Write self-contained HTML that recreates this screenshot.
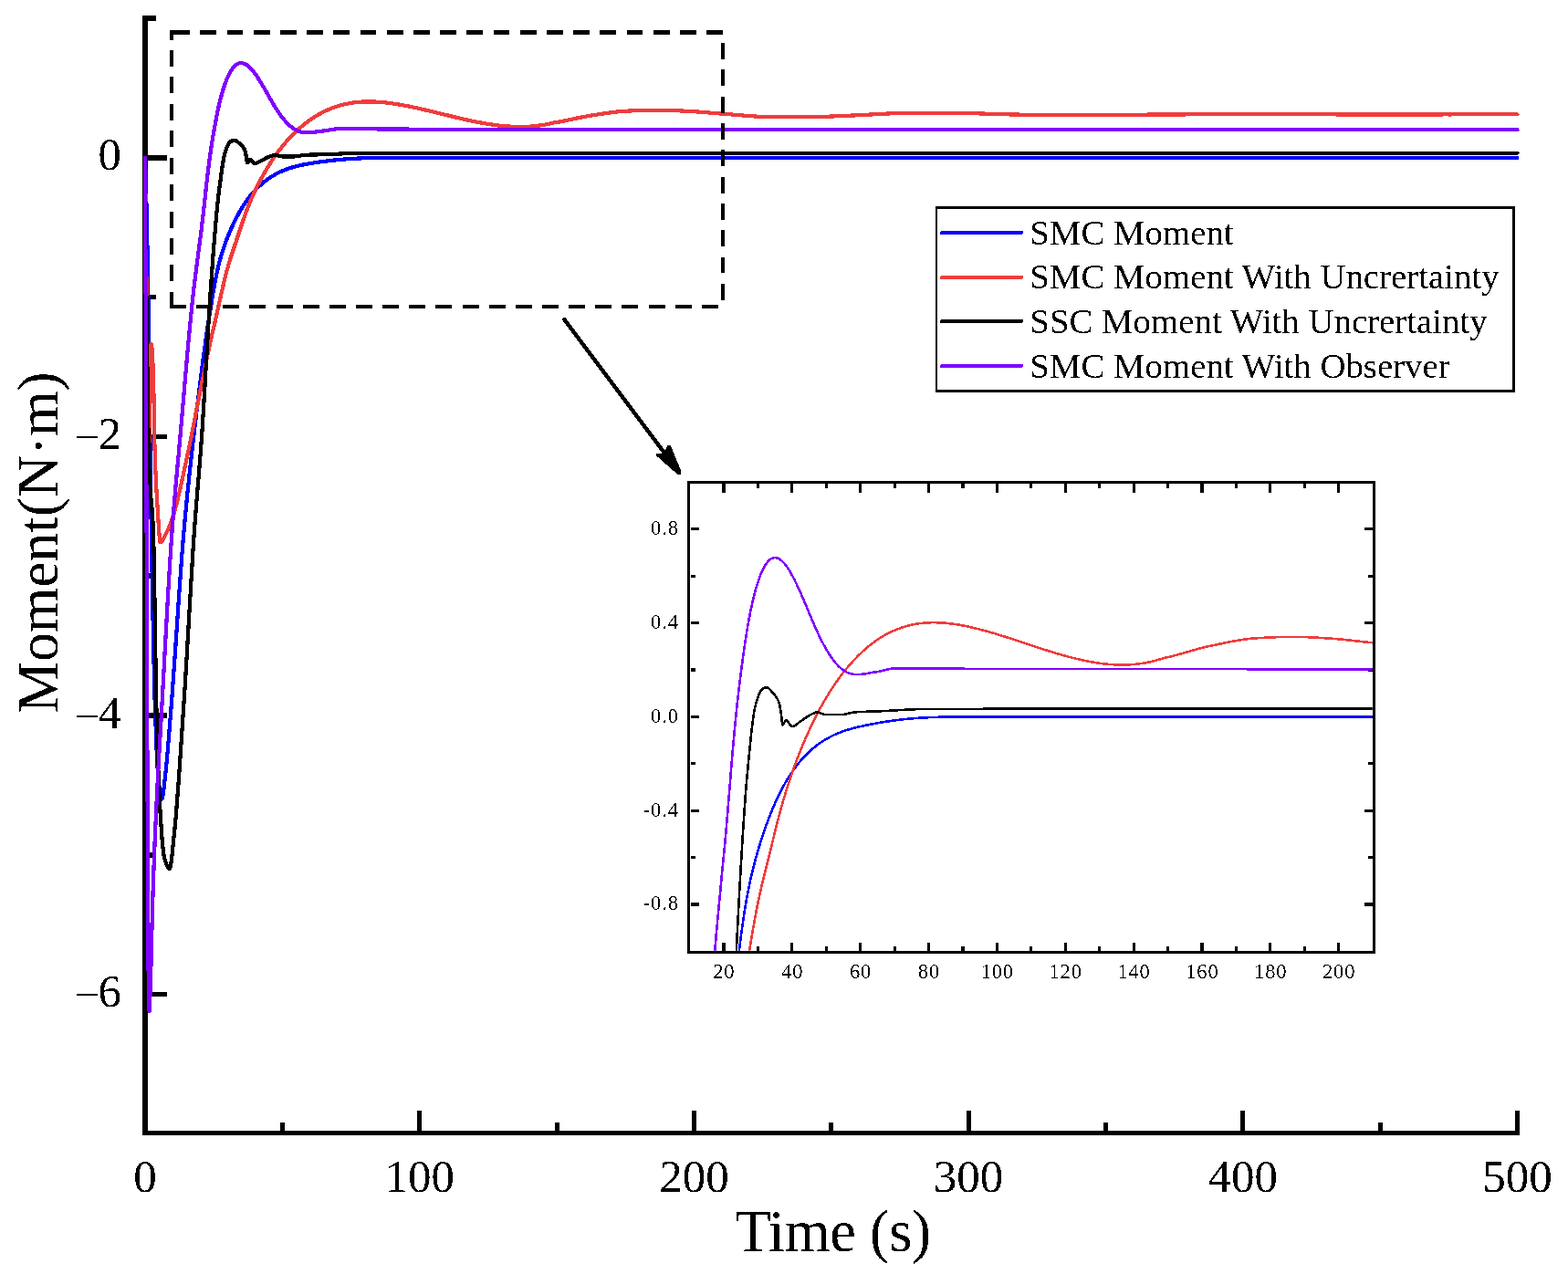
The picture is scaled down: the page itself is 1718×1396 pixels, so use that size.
<!DOCTYPE html><html><head><meta charset="utf-8"><title>Moment</title><style>html,body{margin:0;padding:0;background:#fff;width:1718px;height:1396px;overflow:hidden;}svg{display:block;shape-rendering:crispEdges;}text{font-family:"Liberation Serif","Times New Roman",serif;fill:#000;filter:url(#al);}</style></head><body>
<svg width="1718" height="1396" viewBox="0 0 1718 1396">
<rect x="0" y="0" width="1718" height="1396" fill="#fff"/>
<defs><filter id="al" x="-5%" y="-5%" width="110%" height="110%" color-interpolation-filters="sRGB"><feComponentTransfer><feFuncA type="discrete" tableValues="0 1"/></feComponentTransfer></filter><clipPath id="cm"><rect x="156" y="0" width="1520" height="1244"/></clipPath><clipPath id="ci"><rect x="756.7" y="530.2" width="747" height="511.6"/></clipPath></defs>
<rect x="156" y="17" width="6" height="1227" fill="#000"/><rect x="156" y="1238.8" width="1509" height="5" fill="#000"/><rect x="160" y="170.00" width="23" height="5.6" fill="#000"/><rect x="160" y="475.56" width="23" height="5.6" fill="#000"/><rect x="160" y="781.12" width="23" height="5.6" fill="#000"/><rect x="160" y="1086.68" width="23" height="5.6" fill="#000"/><rect x="160" y="17.22" width="11" height="5.6" fill="#000"/><rect x="160" y="322.78" width="11" height="5.6" fill="#000"/><rect x="160" y="628.34" width="11" height="5.6" fill="#000"/><rect x="160" y="933.90" width="11" height="5.6" fill="#000"/><rect x="156.50" y="1217" width="5" height="24" fill="#000"/><rect x="457.20" y="1217" width="5" height="24" fill="#000"/><rect x="757.90" y="1217" width="5" height="24" fill="#000"/><rect x="1058.60" y="1217" width="5" height="24" fill="#000"/><rect x="1359.30" y="1217" width="5" height="24" fill="#000"/><rect x="1660.00" y="1217" width="5" height="24" fill="#000"/><rect x="306.85" y="1229.8" width="5" height="11" fill="#000"/><rect x="607.55" y="1229.8" width="5" height="11" fill="#000"/><rect x="908.25" y="1229.8" width="5" height="11" fill="#000"/><rect x="1208.95" y="1229.8" width="5" height="11" fill="#000"/><rect x="1509.65" y="1229.8" width="5" height="11" fill="#000"/>
<g clip-path="url(#cm)" fill="none" stroke-width="4.2" stroke-linejoin="round" stroke-linecap="round" shape-rendering="crispEdges">
<path d="M159.00 172.80 L159.08 174.94 L159.15 177.14 L159.23 179.40 L159.30 181.73 L159.38 184.12 L159.45 186.57 L159.53 189.08 L159.60 191.64 L159.68 194.27 L159.75 196.95 L159.83 199.69 L159.90 202.49 L159.98 205.33 L160.05 208.24 L160.13 211.19 L160.20 214.20 L160.28 217.26 L160.35 220.36 L160.43 223.52 L160.50 226.73 L160.58 229.98 L160.65 233.28 L160.73 236.62 L160.80 240.01 L160.88 243.44 L160.95 246.92 L161.03 250.44 L161.10 254.00 L161.18 257.60 L161.26 261.24 L161.33 264.92 L161.41 268.63 L161.48 272.38 L161.56 276.17 L161.63 280.00 L161.71 283.85 L161.78 287.74 L161.86 291.67 L161.93 295.62 L162.01 299.61 L162.08 303.69 L162.16 307.95 L162.23 312.36 L162.31 316.93 L162.38 321.64 L162.46 326.50 L162.53 331.49 L162.61 336.61 L162.68 341.84 L162.76 347.20 L162.83 352.66 L162.91 358.22 L162.98 363.87 L163.06 369.62 L163.13 375.44 L163.21 381.34 L163.28 387.31 L163.36 393.33 L163.44 399.42 L163.51 405.55 L163.59 411.72 L163.66 417.92 L163.74 424.16 L163.81 430.42 L163.89 436.69 L163.96 442.97 L164.04 449.25 L164.11 455.52 L164.19 461.79 L164.26 468.04 L164.34 474.26 L164.41 480.45 L164.49 486.60 L164.56 492.71 L164.64 498.77 L164.71 504.77 L164.79 510.70 L164.86 516.56 L164.94 522.35 L165.01 528.05 L165.09 533.66 L165.16 539.17 L165.24 544.58 L165.31 549.88 L165.39 555.06 L165.47 560.12 L165.54 565.04 L165.62 569.83 L165.69 574.47 L165.77 578.97 L165.84 583.33 L165.92 587.68 L165.99 592.01 L166.07 596.33 L166.14 600.63 L166.22 604.93 L166.29 609.21 L166.37 613.47 L166.44 617.72 L166.52 621.94 L166.59 626.15 L166.67 630.34 L166.74 634.51 L166.82 638.65 L166.89 642.77 L166.97 646.87 L167.04 650.94 L167.12 654.98 L167.19 659.00 L167.27 662.99 L167.34 666.95 L167.42 670.87 L167.49 674.77 L167.57 678.63 L167.65 682.46 L167.72 686.25 L167.80 690.01 L167.87 693.73 L167.95 697.41 L168.02 701.05 L168.32 715.21 L168.62 728.65 L168.92 741.30 L169.22 753.11 L169.52 764.00 L169.83 773.90 L170.13 782.82 L170.43 791.36 L170.73 799.64 L171.03 807.60 L171.33 815.18 L171.63 822.31 L171.93 828.95 L172.23 835.03 L172.53 840.50 L172.83 845.31 L173.13 849.38 L173.43 852.67 L173.73 855.52 L174.03 858.30 L174.34 860.98 L174.64 863.53 L174.94 865.92 L175.24 868.11 L175.54 870.08 L175.84 871.80 L176.14 873.23 L176.44 874.36 L176.74 875.13 L177.04 875.54 L177.34 875.52 L177.64 875.02 L177.94 874.06 L178.24 872.70 L178.55 870.98 L178.85 868.97 L179.15 866.70 L179.45 864.23 L179.75 861.62 L180.05 858.90 L180.35 856.14 L180.65 853.39 L180.95 850.68 L181.25 848.09 L181.55 845.48 L181.85 842.72 L182.15 839.81 L182.45 836.78 L182.76 833.62 L183.06 830.34 L183.36 826.97 L183.66 823.50 L183.96 819.95 L184.26 816.34 L184.56 812.66 L184.86 808.93 L185.16 805.17 L185.46 801.37 L185.76 797.56 L186.06 793.74 L186.36 789.92 L186.66 786.12 L186.97 782.34 L187.27 778.59 L187.57 774.81 L187.87 770.97 L188.17 767.07 L188.47 763.11 L188.77 759.10 L189.07 755.04 L189.37 750.93 L189.67 746.78 L189.97 742.59 L190.27 738.36 L190.57 734.09 L190.87 729.80 L191.17 725.47 L191.48 721.12 L191.78 716.75 L192.08 712.35 L192.38 707.94 L192.68 703.52 L192.98 699.09 L193.28 694.64 L193.58 690.20 L193.88 685.75 L194.18 681.31 L194.48 676.87 L194.78 672.44 L195.08 668.01 L195.38 663.61 L195.69 659.22 L195.99 654.85 L196.29 650.50 L196.59 646.18 L196.89 641.89 L197.19 637.63 L197.49 633.41 L197.79 629.22 L198.09 625.08 L198.39 620.98 L198.69 616.93 L198.99 612.93 L199.29 608.98 L199.59 605.09 L199.90 601.26 L200.20 597.49 L200.50 593.79 L200.80 590.16 L201.10 586.60 L201.40 583.12 L201.70 579.71 L202.00 576.34 L202.30 573.02 L202.60 569.72 L202.90 566.46 L203.20 563.23 L203.50 560.03 L203.80 556.87 L204.11 553.73 L204.41 550.63 L204.71 547.55 L205.01 544.50 L205.31 541.48 L205.61 538.49 L205.91 535.52 L206.21 532.58 L206.51 529.66 L206.81 526.77 L207.11 523.90 L207.41 521.06 L207.71 518.23 L208.01 515.43 L208.31 512.65 L208.62 509.89 L208.92 507.15 L209.22 504.43 L209.52 501.72 L209.82 499.03 L210.12 496.36 L210.42 493.71 L210.72 491.07 L211.02 488.45 L211.32 485.84 L211.62 483.24 L211.92 480.66 L212.22 478.09 L212.52 475.52 L212.83 472.96 L213.13 470.40 L213.43 467.85 L213.73 465.30 L214.03 462.76 L214.33 460.22 L214.63 457.69 L214.93 455.17 L215.23 452.65 L215.53 450.15 L215.83 447.64 L216.13 445.15 L216.43 442.66 L216.73 440.18 L217.04 437.71 L217.34 435.25 L217.64 432.79 L217.94 430.35 L218.24 427.91 L218.54 425.48 L218.84 423.06 L219.14 420.65 L219.44 418.25 L219.74 415.86 L220.04 413.48 L220.34 411.11 L220.64 408.76 L220.94 406.41 L221.24 404.07 L221.55 401.75 L221.85 399.43 L222.15 397.13 L222.45 394.84 L222.75 392.56 L223.05 390.29 L223.35 388.04 L223.65 385.80 L223.95 383.57 L224.25 381.36 L224.55 379.15 L224.85 376.97 L225.15 374.79 L225.45 372.63 L225.76 370.49 L226.06 368.36 L226.36 366.24 L226.66 364.14 L226.96 362.05 L227.26 359.98 L227.56 357.93 L227.86 355.89 L228.16 353.86 L228.46 352.09 L228.76 350.28 L229.06 348.44 L229.36 346.57 L229.66 344.68 L229.97 342.78 L230.27 340.86 L230.57 338.94 L230.87 337.01 L231.17 335.08 L231.47 333.15 L231.77 331.23 L232.07 329.32 L232.37 327.42 L232.67 325.54 L232.97 323.68 L233.27 321.86 L233.57 320.07 L233.87 318.31 L234.18 316.59 L234.48 314.90 L234.78 313.23 L235.08 311.60 L235.38 310.00 L235.68 308.43 L235.98 306.89 L236.28 305.37 L236.58 303.89 L236.88 302.43 L237.18 301.00 L237.48 299.59 L237.78 298.22 L238.08 296.86 L238.38 295.54 L238.69 294.23 L238.99 292.95 L239.29 291.70 L239.59 290.47 L239.89 289.26 L240.19 288.07 L240.49 286.90 L240.79 285.76 L241.09 284.63 L241.39 283.53 L241.69 282.45 L241.99 281.38 L242.29 280.33 L242.59 279.30 L242.90 278.29 L243.20 277.30 L243.50 276.32 L243.80 275.36 L244.10 274.41 L244.40 273.48 L244.70 272.56 L245.00 271.66 L245.30 270.77 L245.60 269.90 L245.90 269.03 L246.20 268.18 L246.50 267.34 L246.80 266.51 L247.11 265.69 L247.41 264.88 L247.71 264.08 L248.01 263.29 L248.31 262.51 L248.61 261.74 L248.91 260.97 L249.21 260.21 L249.51 259.46 L249.81 258.71 L250.11 257.97 L250.41 257.24 L250.71 256.51 L251.01 255.79 L251.31 255.08 L251.62 254.37 L251.92 253.66 L252.22 252.97 L252.52 252.27 L252.82 251.59 L253.12 250.91 L253.42 250.23 L253.72 249.56 L254.02 248.90 L254.32 248.24 L254.62 247.59 L254.92 246.94 L255.22 246.30 L255.52 245.67 L255.83 245.03 L256.13 244.41 L256.43 243.79 L256.73 243.17 L257.03 242.56 L257.33 241.95 L257.63 241.35 L257.93 240.75 L258.23 240.16 L258.53 239.57 L258.83 238.99 L259.13 238.41 L259.43 237.84 L259.73 237.27 L260.04 236.70 L260.34 236.14 L260.64 235.59 L260.94 235.04 L261.24 234.49 L261.54 233.95 L261.84 233.41 L262.14 232.87 L262.44 232.34 L262.74 231.82 L263.04 231.30 L263.34 230.78 L263.64 230.27 L263.94 229.76 L264.25 229.25 L264.55 228.75 L264.85 228.26 L265.15 227.76 L265.45 227.28 L265.75 226.79 L266.05 226.31 L266.35 225.83 L266.65 225.36 L266.95 224.89 L267.25 224.43 L267.55 223.97 L267.85 223.51 L268.15 223.06 L268.45 222.61 L268.76 222.17 L269.06 221.72 L269.36 221.29 L269.66 220.85 L269.96 220.42 L270.26 220.00 L270.56 219.57 L270.86 219.15 L271.16 218.74 L271.46 218.33 L271.76 217.92 L272.06 217.51 L272.36 217.11 L272.66 216.71 L272.97 216.32 L273.27 215.93 L273.57 215.54 L273.87 215.16 L274.17 214.77 L274.47 214.40 L274.77 214.02 L275.07 213.65 L275.37 213.28 L275.67 212.92 L275.97 212.56 L276.27 212.20 L276.57 211.85 L276.87 211.50 L277.18 211.15 L277.48 210.80 L277.78 210.46 L278.08 210.12 L278.38 209.78 L278.68 209.45 L278.98 209.12 L279.28 208.79 L279.58 208.47 L279.88 208.15 L280.18 207.83 L280.48 207.51 L280.78 207.20 L281.08 206.89 L281.38 206.58 L281.69 206.28 L281.99 205.98 L282.29 205.68 L282.59 205.38 L282.89 205.09 L283.19 204.80 L283.49 204.51 L283.79 204.23 L284.09 203.94 L284.39 203.66 L284.69 203.38 L284.99 203.11 L285.29 202.84 L285.59 202.57 L285.90 202.30 L286.20 202.03 L286.50 201.77 L286.80 201.51 L287.10 201.25 L287.40 200.99 L287.70 200.74 L288.00 200.49 L288.30 200.24 L288.60 199.99 L288.90 199.75 L289.20 199.51 L289.50 199.27 L289.80 199.03 L290.11 198.79 L290.41 198.56 L290.71 198.33 L291.01 198.10 L291.31 197.87 L291.61 197.64 L291.91 197.42 L292.21 197.20 L292.51 196.98 L292.81 196.76 L293.11 196.54 L293.41 196.33 L293.71 196.11 L294.01 195.90 L294.31 195.69 L294.62 195.49 L294.92 195.28 L295.22 195.08 L295.52 194.88 L295.82 194.68 L296.12 194.48 L296.42 194.28 L296.72 194.09 L297.02 193.89 L297.32 193.70 L297.62 193.51 L297.92 193.32 L298.22 193.14 L298.52 192.95 L298.83 192.77 L299.13 192.59 L299.43 192.41 L299.73 192.23 L300.03 192.06 L300.33 191.88 L300.63 191.71 L300.93 191.54 L301.23 191.37 L301.53 191.20 L301.83 191.03 L302.13 190.87 L302.43 190.70 L302.73 190.54 L303.04 190.38 L303.34 190.22 L303.64 190.06 L303.94 189.91 L304.24 189.75 L304.54 189.60 L304.84 189.45 L305.14 189.30 L305.44 189.15 L305.74 189.00 L306.04 188.85 L306.34 188.71 L306.64 188.57 L306.94 188.43 L307.25 188.29 L307.55 188.15 L307.85 188.01 L308.15 187.87 L308.45 187.74 L308.75 187.60 L309.05 187.47 L309.35 187.34 L309.65 187.21 L309.95 187.08 L310.25 186.96 L310.55 186.83 L310.85 186.71 L311.15 186.58 L311.45 186.46 L311.76 186.34 L312.06 186.22 L312.36 186.10 L312.66 185.99 L312.96 185.87 L313.26 185.75 L313.56 185.64 L313.86 185.53 L314.16 185.42 L314.46 185.31 L314.76 185.20 L315.06 185.09 L315.36 184.98 L315.66 184.88 L315.97 184.77 L316.27 184.67 L316.57 184.57 L316.87 184.47 L317.17 184.37 L317.47 184.27 L317.77 184.17 L318.07 184.07 L318.37 183.98 L318.67 183.88 L318.97 183.79 L319.27 183.69 L319.57 183.60 L319.87 183.51 L320.18 183.42 L320.48 183.33 L320.78 183.24 L321.08 183.15 L321.38 183.07 L321.68 182.98 L321.98 182.90 L322.28 182.81 L322.58 182.73 L322.88 182.65 L323.18 182.57 L323.48 182.49 L323.78 182.41 L324.08 182.33 L324.38 182.25 L324.69 182.17 L324.99 182.10 L325.29 182.02 L325.59 181.94 L325.89 181.87 L326.19 181.80 L326.49 181.72 L326.79 181.65 L327.09 181.58 L327.39 181.51 L327.69 181.44 L327.99 181.37 L328.29 181.30 L328.59 181.23 L328.90 181.17 L329.20 181.10 L329.50 181.03 L329.80 180.97 L330.10 180.90 L330.40 180.84 L330.70 180.78 L331.00 180.71 L331.30 180.65 L331.60 180.59 L331.90 180.53 L332.20 180.47 L332.50 180.41 L332.80 180.35 L333.11 180.29 L333.41 180.23 L333.71 180.17 L334.01 180.12 L334.31 180.06 L334.61 180.00 L334.91 179.95 L335.21 179.89 L335.51 179.83 L335.81 179.78 L336.11 179.72 L336.41 179.67 L336.71 179.62 L337.01 179.56 L337.32 179.51 L337.62 179.46 L337.92 179.41 L338.22 179.35 L338.52 179.30 L338.82 179.25 L339.12 179.20 L339.42 179.15 L339.72 179.10 L340.02 179.05 L340.32 179.00 L340.62 178.95 L340.92 178.90 L341.22 178.85 L341.52 178.80 L341.83 178.75 L342.13 178.71 L342.43 178.66 L342.73 178.61 L343.03 178.56 L343.33 178.51 L343.63 178.47 L343.93 178.42 L344.23 178.37 L344.53 178.33 L344.83 178.28 L345.13 178.23 L345.43 178.19 L345.73 178.14 L346.04 178.10 L346.34 178.05 L346.64 178.01 L346.94 177.96 L347.24 177.92 L347.54 177.87 L347.84 177.83 L348.14 177.78 L348.44 177.74 L348.74 177.70 L349.04 177.65 L349.34 177.61 L349.64 177.57 L349.94 177.52 L350.25 177.48 L350.55 177.44 L350.85 177.40 L351.15 177.36 L351.45 177.31 L351.75 177.27 L352.05 177.23 L352.35 177.19 L352.65 177.15 L352.95 177.11 L353.25 177.07 L353.55 177.03 L353.85 176.99 L354.15 176.95 L354.46 176.91 L354.76 176.87 L355.06 176.83 L355.36 176.79 L355.66 176.75 L355.96 176.71 L356.26 176.68 L356.56 176.64 L356.86 176.60 L357.16 176.56 L357.46 176.53 L357.76 176.49 L358.06 176.45 L358.36 176.41 L358.66 176.38 L358.97 176.34 L359.27 176.31 L359.57 176.27 L359.87 176.23 L360.17 176.20 L360.47 176.16 L360.77 176.13 L361.07 176.09 L361.37 176.06 L361.67 176.02 L361.97 175.99 L362.27 175.95 L362.57 175.92 L362.87 175.89 L363.18 175.85 L363.48 175.82 L363.78 175.79 L364.08 175.75 L364.38 175.72 L364.68 175.69 L364.98 175.66 L365.28 175.62 L365.58 175.59 L365.88 175.56 L366.18 175.53 L366.48 175.50 L366.78 175.47 L367.08 175.44 L367.39 175.41 L367.69 175.38 L367.99 175.35 L368.29 175.32 L368.59 175.29 L368.89 175.26 L369.19 175.23 L369.49 175.20 L372.50 174.92 L375.50 174.65 L378.51 174.41 L381.52 174.19 L384.52 173.99 L387.53 173.80 L390.54 173.64 L393.55 173.49 L396.55 173.36 L399.56 173.25 L402.57 173.16 L405.57 173.09 L408.58 173.03 L411.59 172.99 L414.60 172.97 L417.60 172.97 L420.61 172.98 L423.62 173.01 L426.62 173.00 L429.63 172.87 L432.64 172.86 L435.64 172.85 L438.65 172.84 L441.66 172.83 L444.67 172.82 L447.67 172.81 L450.68 172.81 L453.69 172.80 L456.69 172.80 L459.70 172.80 L462.71 172.80 L465.71 172.80 L468.72 172.80 L471.73 172.80 L474.74 172.80 L477.74 172.80 L480.75 172.80 L483.76 172.80 L486.76 172.80 L489.77 172.80 L492.78 172.80 L495.78 172.80 L498.79 172.80 L501.80 172.80 L504.81 172.80 L507.81 172.80 L510.82 172.80 L513.83 172.80 L516.83 172.80 L519.84 172.80 L522.85 172.80 L525.85 172.80 L528.86 172.80 L531.87 172.80 L534.88 172.80 L537.88 172.80 L540.89 172.80 L543.90 172.80 L546.90 172.80 L549.91 172.80 L552.92 172.80 L555.92 172.80 L558.93 172.80 L561.94 172.80 L564.94 172.80 L567.95 172.80 L570.96 172.80 L573.97 172.80 L576.97 172.80 L579.98 172.80 L582.99 172.80 L585.99 172.80 L589.00 172.80 L592.01 172.80 L595.02 172.80 L598.02 172.80 L601.03 172.80 L604.04 172.80 L607.04 172.80 L610.05 172.80 L613.06 172.80 L616.06 172.80 L619.07 172.80 L622.08 172.80 L625.09 172.80 L628.09 172.80 L631.10 172.80 L634.11 172.80 L637.11 172.80 L640.12 172.80 L643.13 172.80 L646.13 172.80 L649.14 172.80 L652.15 172.80 L655.15 172.80 L658.16 172.80 L661.17 172.80 L664.18 172.80 L667.18 172.80 L670.19 172.80 L673.20 172.80 L676.20 172.80 L679.21 172.80 L682.22 172.80 L685.23 172.80 L688.23 172.80 L691.24 172.80 L694.25 172.80 L697.25 172.80 L700.26 172.80 L703.27 172.80 L706.27 172.80 L709.28 172.80 L712.29 172.80 L715.30 172.80 L718.30 172.80 L721.31 172.80 L724.32 172.80 L727.32 172.80 L730.33 172.80 L733.34 172.80 L736.34 172.80 L739.35 172.80 L742.36 172.80 L745.37 172.80 L748.37 172.80 L751.38 172.80 L754.39 172.80 L757.39 172.80 L760.40 172.80 L763.41 172.80 L766.41 172.80 L769.42 172.80 L772.43 172.80 L775.44 172.80 L778.44 172.80 L781.45 172.80 L784.46 172.80 L787.46 172.80 L790.47 172.80 L793.48 172.80 L796.48 172.80 L799.49 172.80 L802.50 172.80 L805.50 172.80 L808.51 172.80 L811.52 172.80 L814.53 172.80 L817.53 172.80 L820.54 172.80 L823.55 172.80 L826.55 172.80 L829.56 172.80 L832.57 172.80 L835.58 172.80 L838.58 172.80 L841.59 172.80 L844.60 172.80 L847.60 172.80 L850.61 172.80 L853.62 172.80 L856.62 172.80 L859.63 172.80 L862.64 172.80 L865.64 172.80 L868.65 172.80 L871.66 172.80 L874.67 172.80 L877.67 172.80 L880.68 172.80 L883.69 172.80 L886.69 172.80 L889.70 172.80 L892.71 172.80 L895.72 172.80 L898.72 172.80 L901.73 172.80 L904.74 172.80 L907.74 172.80 L910.75 172.80 L913.76 172.80 L916.76 172.80 L919.77 172.80 L922.78 172.80 L925.79 172.80 L928.79 172.80 L931.80 172.80 L934.81 172.80 L937.81 172.80 L940.82 172.80 L943.83 172.80 L946.83 172.80 L949.84 172.80 L952.85 172.80 L955.86 172.80 L958.86 172.80 L961.87 172.80 L964.88 172.80 L967.88 172.80 L970.89 172.80 L973.90 172.80 L976.90 172.80 L979.91 172.80 L982.92 172.80 L985.93 172.80 L988.93 172.80 L991.94 172.80 L994.95 172.80 L997.95 172.80 L1000.96 172.80 L1003.97 172.80 L1006.97 172.80 L1009.98 172.80 L1012.99 172.80 L1016.00 172.80 L1019.00 172.80 L1022.01 172.80 L1025.02 172.80 L1028.02 172.80 L1031.03 172.80 L1034.04 172.80 L1037.04 172.80 L1040.05 172.80 L1043.06 172.80 L1046.07 172.80 L1049.07 172.80 L1052.08 172.80 L1055.09 172.80 L1058.09 172.80 L1061.10 172.80 L1064.11 172.80 L1067.11 172.80 L1070.12 172.80 L1073.13 172.80 L1076.13 172.80 L1079.14 172.80 L1082.15 172.80 L1085.16 172.80 L1088.16 172.80 L1091.17 172.80 L1094.18 172.80 L1097.18 172.80 L1100.19 172.80 L1103.20 172.80 L1106.20 172.80 L1109.21 172.80 L1112.22 172.80 L1115.23 172.80 L1118.23 172.80 L1121.24 172.80 L1124.25 172.80 L1127.25 172.80 L1130.26 172.80 L1133.27 172.80 L1136.28 172.80 L1139.28 172.80 L1142.29 172.80 L1145.30 172.80 L1148.30 172.80 L1151.31 172.80 L1154.32 172.80 L1157.32 172.80 L1160.33 172.80 L1163.34 172.80 L1166.35 172.80 L1169.35 172.80 L1172.36 172.80 L1175.37 172.80 L1178.37 172.80 L1181.38 172.80 L1184.39 172.80 L1187.39 172.80 L1190.40 172.80 L1193.41 172.80 L1196.41 172.80 L1199.42 172.80 L1202.43 172.80 L1205.44 172.80 L1208.44 172.80 L1211.45 172.80 L1214.46 172.80 L1217.46 172.80 L1220.47 172.80 L1223.48 172.80 L1226.49 172.80 L1229.49 172.80 L1232.50 172.80 L1235.51 172.80 L1238.51 172.80 L1241.52 172.80 L1244.53 172.80 L1247.53 172.80 L1250.54 172.80 L1253.55 172.80 L1256.56 172.80 L1259.56 172.80 L1262.57 172.80 L1265.58 172.80 L1268.58 172.80 L1271.59 172.80 L1274.60 172.80 L1277.60 172.80 L1280.61 172.80 L1283.62 172.80 L1286.62 172.80 L1289.63 172.80 L1292.64 172.80 L1295.65 172.80 L1298.65 172.80 L1301.66 172.80 L1304.67 172.80 L1307.67 172.80 L1310.68 172.80 L1313.69 172.80 L1316.69 172.80 L1319.70 172.80 L1322.71 172.80 L1325.72 172.80 L1328.72 172.80 L1331.73 172.80 L1334.74 172.80 L1337.74 172.80 L1340.75 172.80 L1343.76 172.80 L1346.77 172.80 L1349.77 172.80 L1352.78 172.80 L1355.79 172.80 L1358.79 172.80 L1361.80 172.80 L1364.81 172.80 L1367.81 172.80 L1370.82 172.80 L1373.83 172.80 L1376.84 172.80 L1379.84 172.80 L1382.85 172.80 L1385.86 172.80 L1388.86 172.80 L1391.87 172.80 L1394.88 172.80 L1397.88 172.80 L1400.89 172.80 L1403.90 172.80 L1406.90 172.80 L1409.91 172.80 L1412.92 172.80 L1415.93 172.80 L1418.93 172.80 L1421.94 172.80 L1424.95 172.80 L1427.95 172.80 L1430.96 172.80 L1433.97 172.80 L1436.98 172.80 L1439.98 172.80 L1442.99 172.80 L1446.00 172.80 L1449.00 172.80 L1452.01 172.80 L1455.02 172.80 L1458.02 172.80 L1461.03 172.80 L1464.04 172.80 L1467.05 172.80 L1470.05 172.80 L1473.06 172.80 L1476.07 172.80 L1479.07 172.80 L1482.08 172.80 L1485.09 172.80 L1488.09 172.80 L1491.10 172.80 L1494.11 172.80 L1497.12 172.80 L1500.12 172.80 L1503.13 172.80 L1506.14 172.80 L1509.14 172.80 L1512.15 172.80 L1515.16 172.80 L1518.16 172.80 L1521.17 172.80 L1524.18 172.80 L1527.18 172.80 L1530.19 172.80 L1533.20 172.80 L1536.21 172.80 L1539.21 172.80 L1542.22 172.80 L1545.23 172.80 L1548.23 172.80 L1551.24 172.80 L1554.25 172.80 L1557.26 172.80 L1560.26 172.80 L1563.27 172.80 L1566.28 172.80 L1569.28 172.80 L1572.29 172.80 L1575.30 172.80 L1578.30 172.80 L1581.31 172.80 L1584.32 172.80 L1587.33 172.80 L1590.33 172.80 L1593.34 172.80 L1596.35 172.80 L1599.35 172.80 L1602.36 172.80 L1605.37 172.80 L1608.37 172.80 L1611.38 172.80 L1614.39 172.80 L1617.39 172.80 L1620.40 172.80 L1623.41 172.80 L1626.42 172.80 L1629.42 172.80 L1632.43 172.80 L1635.44 172.80 L1638.44 172.80 L1641.45 172.80 L1644.46 172.80 L1647.47 172.80 L1650.47 172.80 L1653.48 172.80 L1656.49 172.80 L1659.49 172.80 L1662.50 172.80" stroke="#0000ff"/>
<path d="M159.00 172.80 L159.08 180.04 L159.15 187.24 L159.23 194.41 L159.30 201.54 L159.38 208.63 L159.45 215.68 L159.53 222.70 L159.60 229.68 L159.68 236.62 L159.75 243.52 L159.83 250.38 L159.90 257.20 L159.98 263.98 L160.05 270.72 L160.13 277.42 L160.20 284.08 L160.28 290.70 L160.35 297.28 L160.43 303.81 L160.50 310.30 L160.58 316.82 L160.65 323.44 L160.73 330.12 L160.80 336.84 L160.88 343.59 L160.95 350.34 L161.03 357.07 L161.10 363.75 L161.18 370.37 L161.26 376.90 L161.33 383.33 L161.41 389.62 L161.48 395.75 L161.56 401.71 L161.63 407.47 L161.71 413.01 L161.78 418.31 L161.86 423.34 L161.93 428.09 L162.01 432.53 L162.08 436.88 L162.16 441.37 L162.23 445.93 L162.31 450.50 L162.38 455.03 L162.46 459.46 L162.53 463.74 L162.61 467.81 L162.68 471.61 L162.76 475.09 L162.83 478.19 L162.91 480.85 L162.98 483.02 L163.06 484.64 L163.13 485.65 L163.21 486.00 L163.28 485.89 L163.36 485.55 L163.44 484.97 L163.51 484.15 L163.59 483.09 L163.66 481.77 L163.74 480.20 L163.81 478.36 L163.89 470.21 L163.96 454.14 L164.04 436.81 L164.11 424.89 L164.19 418.18 L164.26 412.10 L164.34 406.66 L164.41 401.88 L164.49 397.78 L164.56 394.37 L164.64 391.69 L164.71 389.75 L164.79 388.22 L164.86 386.76 L164.94 385.38 L165.01 384.09 L165.09 382.89 L165.16 381.78 L165.24 380.78 L165.31 379.88 L165.39 379.10 L165.47 378.43 L165.54 377.89 L165.62 377.48 L165.69 377.21 L165.77 377.08 L165.84 377.10 L165.92 377.27 L165.99 377.60 L166.07 378.05 L166.14 378.64 L166.22 379.33 L166.29 380.12 L166.37 381.01 L166.44 381.96 L166.52 382.98 L166.59 384.05 L166.67 385.16 L166.74 386.30 L166.82 387.45 L166.89 388.60 L166.97 389.75 L167.04 390.93 L167.12 392.19 L167.19 393.53 L167.27 394.96 L167.34 396.48 L167.42 398.09 L167.49 399.79 L167.57 401.58 L167.65 403.46 L167.72 405.44 L167.80 407.51 L167.87 409.69 L167.95 411.96 L168.02 414.34 L168.32 424.89 L168.62 442.41 L168.92 464.79 L169.22 480.98 L169.52 491.28 L169.83 500.53 L170.13 508.86 L170.43 516.35 L170.73 523.13 L171.03 529.30 L171.33 534.97 L171.63 540.24 L171.93 545.22 L172.23 550.02 L172.53 554.75 L172.83 559.59 L173.13 564.57 L173.43 569.57 L173.73 574.45 L174.03 579.08 L174.34 583.34 L174.64 587.09 L174.94 590.21 L175.24 592.57 L175.54 594.03 L175.84 594.47 L176.14 594.42 L176.44 594.28 L176.74 594.07 L177.04 593.78 L177.34 593.43 L177.64 593.02 L177.94 592.56 L178.24 592.05 L178.55 591.50 L178.85 590.92 L179.15 590.32 L179.45 589.69 L179.75 589.05 L180.05 588.41 L180.35 587.76 L180.65 587.12 L180.95 586.50 L181.25 585.89 L181.55 585.31 L181.85 584.73 L182.15 584.15 L182.45 583.56 L182.76 582.96 L183.06 582.35 L183.36 581.72 L183.66 581.09 L183.96 580.44 L184.26 579.78 L184.56 579.11 L184.86 578.43 L185.16 577.74 L185.46 577.03 L185.76 576.31 L186.06 575.58 L186.36 574.83 L186.66 574.07 L186.97 573.29 L187.27 572.50 L187.57 571.70 L187.87 570.88 L188.17 570.04 L188.47 569.19 L188.77 568.33 L189.07 567.44 L189.37 566.53 L189.67 565.59 L189.97 564.64 L190.27 563.66 L190.57 562.66 L190.87 561.64 L191.17 560.61 L191.48 559.55 L191.78 558.47 L192.08 557.38 L192.38 556.27 L192.68 555.14 L192.98 553.99 L193.28 552.83 L193.58 551.65 L193.88 550.46 L194.18 549.26 L194.48 548.03 L194.78 546.80 L195.08 545.55 L195.38 544.29 L195.69 543.02 L195.99 541.73 L196.29 540.44 L196.59 539.13 L196.89 537.82 L197.19 536.49 L197.49 535.16 L197.79 533.82 L198.09 532.47 L198.39 531.11 L198.69 529.75 L198.99 528.38 L199.29 527.00 L199.59 525.62 L199.90 524.23 L200.20 522.84 L200.50 521.45 L200.80 520.05 L201.10 518.65 L201.40 517.25 L201.70 515.84 L202.00 514.44 L202.30 513.03 L202.60 511.62 L202.90 510.22 L203.20 508.81 L203.50 507.41 L203.80 506.01 L204.11 504.61 L204.41 503.21 L204.71 501.82 L205.01 500.43 L205.31 499.05 L205.61 497.67 L205.91 496.28 L206.21 494.87 L206.51 493.46 L206.81 492.03 L207.11 490.59 L207.41 489.14 L207.71 487.68 L208.01 486.21 L208.31 484.73 L208.62 483.24 L208.92 481.75 L209.22 480.24 L209.52 478.73 L209.82 477.22 L210.12 475.69 L210.42 474.17 L210.72 472.64 L211.02 471.10 L211.32 469.56 L211.62 468.02 L211.92 466.48 L212.22 464.93 L212.52 463.39 L212.83 461.84 L213.13 460.29 L213.43 458.75 L213.73 457.20 L214.03 455.66 L214.33 454.12 L214.63 452.58 L214.93 451.05 L215.23 449.52 L215.53 448.00 L215.83 446.48 L216.13 444.96 L216.43 443.46 L216.73 441.96 L217.04 440.46 L217.34 438.97 L217.64 437.49 L217.94 435.99 L218.24 434.50 L218.54 433.01 L218.84 431.51 L219.14 430.01 L219.44 428.51 L219.74 427.02 L220.04 425.52 L220.34 424.02 L220.64 422.52 L220.94 421.02 L221.24 419.52 L221.55 418.02 L221.85 416.52 L222.15 415.02 L222.45 413.52 L222.75 412.03 L223.05 410.53 L223.35 409.04 L223.65 407.55 L223.95 406.06 L224.25 404.57 L224.55 403.09 L224.85 401.61 L225.15 400.13 L225.45 398.65 L225.76 397.18 L226.06 395.71 L226.36 394.24 L226.66 392.78 L226.96 391.32 L227.26 389.87 L227.56 388.42 L227.86 386.97 L228.16 385.53 L228.46 384.09 L228.76 382.66 L229.06 381.24 L229.36 379.81 L229.66 378.40 L229.97 376.99 L230.27 375.59 L230.57 374.19 L230.87 372.80 L231.17 371.41 L231.47 370.05 L231.77 368.72 L232.07 367.40 L232.37 366.11 L232.67 364.84 L232.97 363.58 L233.27 362.33 L233.57 361.08 L233.87 359.84 L234.18 358.60 L234.48 357.36 L234.78 356.12 L235.08 354.87 L235.38 353.62 L235.68 352.36 L235.98 351.03 L236.28 349.69 L236.58 348.34 L236.88 346.99 L237.18 345.64 L237.48 344.29 L237.78 342.93 L238.08 341.57 L238.38 340.21 L238.69 338.85 L238.99 337.49 L239.29 336.12 L239.59 334.76 L239.89 333.40 L240.19 332.04 L240.49 330.68 L240.79 329.32 L241.09 327.97 L241.39 326.62 L241.69 325.27 L241.99 323.93 L242.29 322.59 L242.59 321.26 L242.90 319.93 L243.20 318.61 L243.50 317.30 L243.80 315.99 L244.10 314.69 L244.40 313.40 L244.70 312.12 L245.00 310.85 L245.30 309.58 L245.60 308.33 L245.90 307.09 L246.20 305.85 L246.50 304.63 L246.80 303.43 L247.11 302.23 L247.41 301.05 L247.71 299.88 L248.01 298.72 L248.31 297.58 L248.61 296.45 L248.91 295.34 L249.21 294.24 L249.51 293.17 L249.81 292.10 L250.11 291.05 L250.41 290.02 L250.71 289.00 L251.01 287.99 L251.31 286.99 L251.62 286.01 L251.92 285.04 L252.22 284.08 L252.52 283.12 L252.82 282.18 L253.12 281.25 L253.42 280.32 L253.72 279.40 L254.02 278.48 L254.32 277.58 L254.62 276.67 L254.92 275.77 L255.22 274.88 L255.52 273.99 L255.83 273.10 L256.13 272.21 L256.43 271.32 L256.73 270.44 L257.03 269.55 L257.33 268.66 L257.63 267.78 L257.93 266.89 L258.23 265.99 L258.53 265.09 L258.83 264.19 L259.13 263.29 L259.43 262.38 L259.73 261.47 L260.04 260.55 L260.34 259.64 L260.64 258.72 L260.94 257.80 L261.24 256.88 L261.54 255.96 L261.84 255.04 L262.14 254.12 L262.44 253.20 L262.74 252.28 L263.04 251.36 L263.34 250.45 L263.64 249.53 L263.94 248.62 L264.25 247.72 L264.55 246.81 L264.85 245.91 L265.15 245.02 L265.45 244.13 L265.75 243.24 L266.05 242.36 L266.35 241.49 L266.65 240.62 L266.95 239.76 L267.25 238.90 L267.55 238.05 L267.85 237.21 L268.15 236.37 L268.45 235.55 L268.76 234.72 L269.06 233.90 L269.36 233.09 L269.66 232.29 L269.96 231.49 L270.26 230.70 L270.56 229.91 L270.86 229.13 L271.16 228.35 L271.46 227.59 L271.76 226.82 L272.06 226.06 L272.36 225.31 L272.66 224.56 L272.97 223.82 L273.27 223.09 L273.57 222.36 L273.87 221.63 L274.17 220.91 L274.47 220.19 L274.77 219.48 L275.07 218.78 L275.37 218.08 L275.67 217.38 L275.97 216.69 L276.27 216.01 L276.57 215.33 L276.87 214.65 L277.18 213.98 L277.48 213.32 L277.78 212.65 L278.08 212.00 L278.38 211.34 L278.68 210.69 L278.98 210.05 L279.28 209.41 L279.58 208.77 L279.88 208.14 L280.18 207.51 L280.48 206.89 L280.78 206.27 L281.08 205.66 L281.38 205.04 L281.69 204.44 L281.99 203.83 L282.29 203.23 L282.59 202.64 L282.89 202.04 L283.19 201.45 L283.49 200.87 L283.79 200.28 L284.09 199.70 L284.39 199.13 L284.69 198.55 L284.99 197.98 L285.29 197.42 L285.59 196.85 L285.90 196.29 L286.20 195.74 L286.50 195.18 L286.80 194.63 L287.10 194.08 L287.40 193.53 L287.70 192.99 L288.00 192.45 L288.30 191.91 L288.60 191.38 L288.90 190.84 L289.20 190.31 L289.50 189.79 L289.80 189.26 L290.11 188.74 L290.41 188.22 L290.71 187.70 L291.01 187.19 L291.31 186.68 L291.61 186.17 L291.91 185.66 L292.21 185.16 L292.51 184.66 L292.81 184.16 L293.11 183.66 L293.41 183.17 L293.71 182.68 L294.01 182.19 L294.31 181.70 L294.62 181.22 L294.92 180.74 L295.22 180.26 L295.52 179.78 L295.82 179.31 L296.12 178.84 L296.42 178.37 L296.72 177.90 L297.02 177.44 L297.32 176.98 L297.62 176.52 L297.92 176.06 L298.22 175.61 L298.52 175.16 L298.83 174.71 L299.13 174.26 L299.43 173.81 L299.73 173.37 L300.03 172.93 L300.33 172.49 L300.63 172.06 L300.93 171.62 L301.23 171.19 L301.53 170.76 L301.83 170.34 L302.13 169.91 L302.43 169.49 L302.73 169.07 L303.04 168.65 L303.34 168.24 L303.64 167.83 L303.94 167.41 L304.24 167.01 L304.54 166.60 L304.84 166.19 L305.14 165.79 L305.44 165.39 L305.74 164.99 L306.04 164.60 L306.34 164.20 L306.64 163.81 L306.94 163.42 L307.25 163.03 L307.55 162.65 L307.85 162.27 L308.15 161.88 L308.45 161.50 L308.75 161.13 L309.05 160.75 L309.35 160.38 L309.65 160.01 L309.95 159.64 L310.25 159.27 L310.55 158.91 L310.85 158.54 L311.15 158.18 L311.45 157.82 L311.76 157.46 L312.06 157.11 L312.36 156.75 L312.66 156.40 L312.96 156.05 L313.26 155.71 L313.56 155.36 L313.86 155.01 L314.16 154.67 L314.46 154.33 L314.76 153.99 L315.06 153.66 L315.36 153.32 L315.66 152.99 L315.97 152.66 L316.27 152.33 L316.57 152.00 L316.87 151.67 L317.17 151.35 L317.47 151.03 L317.77 150.70 L318.07 150.39 L318.37 150.07 L318.67 149.75 L318.97 149.44 L319.27 149.13 L319.57 148.81 L319.87 148.51 L320.18 148.20 L320.48 147.89 L320.78 147.59 L321.08 147.29 L321.38 146.99 L321.68 146.69 L321.98 146.39 L322.28 146.09 L322.58 145.80 L322.88 145.50 L323.18 145.21 L323.48 144.92 L323.78 144.64 L324.08 144.35 L324.38 144.06 L324.69 143.78 L324.99 143.50 L325.29 143.22 L325.59 142.94 L325.89 142.66 L326.19 142.38 L326.49 142.11 L326.79 141.84 L327.09 141.56 L327.39 141.29 L327.69 141.02 L327.99 140.76 L328.29 140.49 L328.59 140.23 L328.90 139.96 L329.20 139.70 L329.50 139.44 L329.80 139.18 L330.10 138.93 L330.40 138.67 L330.70 138.42 L331.00 138.16 L331.30 137.91 L331.60 137.66 L331.90 137.41 L332.20 137.17 L332.50 136.92 L332.80 136.68 L333.11 136.43 L333.41 136.19 L333.71 135.95 L334.01 135.71 L334.31 135.48 L334.61 135.24 L334.91 135.01 L335.21 134.77 L335.51 134.54 L335.81 134.31 L336.11 134.08 L336.41 133.85 L336.71 133.63 L337.01 133.40 L337.32 133.18 L337.62 132.96 L337.92 132.74 L338.22 132.52 L338.52 132.30 L338.82 132.08 L339.12 131.87 L339.42 131.65 L339.72 131.44 L340.02 131.23 L340.32 131.02 L340.62 130.81 L340.92 130.60 L341.22 130.40 L341.52 130.19 L341.83 129.99 L342.13 129.79 L342.43 129.59 L342.73 129.39 L343.03 129.19 L343.33 128.99 L343.63 128.80 L343.93 128.60 L344.23 128.41 L344.53 128.22 L344.83 128.03 L345.13 127.84 L345.43 127.65 L345.73 127.46 L346.04 127.28 L346.34 127.09 L346.64 126.91 L346.94 126.73 L347.24 126.55 L347.54 126.37 L347.84 126.19 L348.14 126.02 L348.44 125.84 L348.74 125.67 L349.04 125.50 L349.34 125.32 L349.64 125.15 L349.94 124.99 L350.25 124.82 L350.55 124.65 L350.85 124.49 L351.15 124.32 L351.45 124.16 L351.75 124.00 L352.05 123.84 L352.35 123.68 L352.65 123.52 L352.95 123.36 L353.25 123.21 L353.55 123.05 L353.85 122.90 L354.15 122.75 L354.46 122.60 L354.76 122.45 L355.06 122.30 L355.36 122.15 L355.66 122.00 L355.96 121.86 L356.26 121.72 L356.56 121.57 L356.86 121.43 L357.16 121.29 L357.46 121.15 L357.76 121.01 L358.06 120.88 L358.36 120.74 L358.66 120.61 L358.97 120.47 L359.27 120.34 L359.57 120.21 L359.87 120.08 L360.17 119.95 L360.47 119.82 L360.77 119.69 L361.07 119.57 L361.37 119.44 L361.67 119.32 L361.97 119.20 L362.27 119.08 L362.57 118.96 L362.87 118.84 L363.18 118.72 L363.48 118.60 L363.78 118.49 L364.08 118.37 L364.38 118.26 L364.68 118.15 L364.98 118.03 L365.28 117.92 L365.58 117.81 L365.88 117.71 L366.18 117.60 L366.48 117.49 L366.78 117.39 L367.08 117.28 L367.39 117.18 L367.69 117.08 L367.99 116.98 L368.29 116.88 L368.59 116.78 L368.89 116.68 L369.19 116.58 L369.49 116.49 L372.50 115.58 L375.50 114.78 L378.51 114.06 L381.52 113.45 L384.52 112.91 L387.53 112.47 L390.54 112.11 L393.55 111.82 L396.55 111.61 L399.56 111.48 L402.57 111.41 L405.57 111.41 L408.58 111.47 L411.59 111.59 L414.60 111.76 L417.60 111.99 L420.61 112.27 L423.62 112.59 L426.62 112.96 L429.63 113.37 L432.64 113.81 L435.64 114.29 L438.65 114.79 L441.66 115.33 L444.67 115.89 L447.67 116.48 L450.68 117.09 L453.69 117.72 L456.69 118.37 L459.70 119.03 L462.71 119.72 L465.71 120.41 L468.72 121.12 L471.73 121.84 L474.74 122.56 L477.74 123.29 L480.75 124.03 L483.76 124.77 L486.76 125.51 L489.77 126.24 L492.78 126.98 L495.78 127.71 L498.79 128.43 L501.80 129.15 L504.81 129.85 L507.81 130.54 L510.82 131.22 L513.83 131.88 L516.83 132.53 L519.84 133.15 L522.85 133.75 L525.85 134.33 L528.86 134.89 L531.87 135.41 L534.88 135.91 L537.88 136.38 L540.89 136.81 L543.90 137.21 L546.90 137.58 L549.91 137.90 L552.92 138.19 L555.92 138.43 L558.93 138.63 L561.94 138.79 L564.94 138.89 L567.95 138.95 L570.96 138.96 L573.97 138.91 L576.97 138.81 L579.98 138.65 L582.99 138.44 L585.99 138.16 L589.00 137.82 L592.01 137.42 L595.02 136.95 L598.02 136.41 L601.03 135.81 L604.04 135.13 L607.04 134.42 L610.05 133.99 L613.06 133.45 L616.06 132.88 L619.07 132.28 L622.08 131.65 L625.09 131.02 L628.09 130.38 L631.10 129.74 L634.11 129.11 L637.11 128.50 L640.12 127.91 L643.13 127.35 L646.13 126.84 L649.14 126.37 L652.15 125.91 L655.15 125.44 L658.16 124.97 L661.17 124.52 L664.18 124.07 L667.18 123.64 L670.19 123.24 L673.20 122.86 L676.20 122.52 L679.21 122.21 L682.22 121.95 L685.23 121.75 L688.23 121.59 L691.24 121.46 L694.25 121.33 L697.25 121.21 L700.26 121.10 L703.27 121.00 L706.27 120.91 L709.28 120.83 L712.29 120.77 L715.30 120.73 L718.30 120.71 L721.31 120.70 L724.32 120.73 L727.32 120.78 L730.33 120.85 L733.34 120.94 L736.34 121.05 L739.35 121.16 L742.36 121.29 L745.37 121.43 L748.37 121.56 L751.38 121.70 L754.39 121.84 L757.39 122.01 L760.40 122.20 L763.41 122.41 L766.41 122.64 L769.42 122.88 L772.43 123.13 L775.44 123.39 L778.44 123.64 L781.45 123.89 L784.46 124.14 L787.46 124.37 L790.47 124.59 L793.48 124.81 L796.48 125.04 L799.49 125.29 L802.50 125.54 L805.50 125.80 L808.51 126.05 L811.52 126.31 L814.53 126.56 L817.53 126.80 L820.54 127.03 L823.55 127.25 L826.55 127.45 L829.56 127.64 L832.57 127.80 L835.58 127.94 L838.58 128.05 L841.59 128.13 L844.60 128.18 L847.60 128.20 L850.61 128.22 L853.62 128.24 L856.62 128.26 L859.63 128.27 L862.64 128.29 L865.64 128.30 L868.65 128.31 L871.66 128.32 L874.67 128.33 L877.67 128.34 L880.68 128.34 L883.69 128.34 L886.69 128.34 L889.70 128.30 L892.71 128.24 L895.72 128.16 L898.72 128.06 L901.73 127.95 L904.74 127.82 L907.74 127.69 L910.75 127.55 L913.76 127.41 L916.76 127.27 L919.77 127.14 L922.78 127.01 L925.79 126.90 L928.79 126.77 L931.80 126.64 L934.81 126.50 L937.81 126.35 L940.82 126.20 L943.83 126.04 L946.83 125.88 L949.84 125.71 L952.85 125.55 L955.86 125.39 L958.86 125.22 L961.87 125.06 L964.88 124.91 L967.88 124.76 L970.89 124.61 L973.90 124.48 L976.90 124.35 L979.91 124.23 L982.92 124.12 L985.93 124.02 L988.93 123.94 L991.94 123.87 L994.95 123.82 L997.95 123.78 L1000.96 123.76 L1003.97 123.76 L1006.97 123.76 L1009.98 123.76 L1012.99 123.76 L1016.00 123.76 L1019.00 123.76 L1022.01 123.76 L1025.02 123.76 L1028.02 123.76 L1031.03 123.76 L1034.04 123.76 L1037.04 123.76 L1040.05 123.76 L1043.06 123.76 L1046.07 123.77 L1049.07 123.80 L1052.08 123.84 L1055.09 123.90 L1058.09 123.96 L1061.10 124.03 L1064.11 124.12 L1067.11 124.21 L1070.12 124.30 L1073.13 124.40 L1076.13 124.50 L1079.14 124.60 L1082.15 124.71 L1085.16 124.81 L1088.16 124.91 L1091.17 125.01 L1094.18 125.11 L1097.18 125.20 L1100.19 125.28 L1103.20 125.35 L1106.20 125.42 L1109.21 125.47 L1112.22 125.53 L1115.23 125.58 L1118.23 125.64 L1121.24 125.70 L1124.25 125.76 L1127.25 125.81 L1130.26 125.87 L1133.27 125.93 L1136.28 125.98 L1139.28 126.03 L1142.29 126.08 L1145.30 126.13 L1148.30 126.17 L1151.31 126.21 L1154.32 126.24 L1157.32 126.27 L1160.33 126.30 L1163.34 126.32 L1166.35 126.34 L1169.35 126.35 L1172.36 126.35 L1175.37 126.35 L1178.37 126.34 L1181.38 126.32 L1184.39 126.30 L1187.39 126.27 L1190.40 126.24 L1193.41 126.20 L1196.41 126.16 L1199.42 126.12 L1202.43 126.08 L1205.44 126.03 L1208.44 125.99 L1211.45 125.94 L1214.46 125.90 L1217.46 125.86 L1220.47 125.83 L1223.48 125.80 L1226.49 125.77 L1229.49 125.75 L1232.50 125.73 L1235.51 125.71 L1238.51 125.70 L1241.52 125.68 L1244.53 125.66 L1247.53 125.65 L1250.54 125.63 L1253.55 125.62 L1256.56 125.60 L1259.56 125.59 L1262.57 125.57 L1265.58 125.56 L1268.58 125.54 L1271.59 125.53 L1274.60 125.51 L1277.60 125.50 L1280.61 125.49 L1283.62 125.47 L1286.62 125.46 L1289.63 125.45 L1292.64 125.43 L1295.65 125.42 L1298.65 125.41 L1301.66 125.40 L1304.67 125.39 L1307.67 125.38 L1310.68 125.37 L1313.69 125.36 L1316.69 125.35 L1319.70 125.34 L1322.71 125.34 L1325.72 125.33 L1328.72 125.32 L1331.73 125.32 L1334.74 125.31 L1337.74 125.31 L1340.75 125.30 L1343.76 125.30 L1346.77 125.29 L1349.77 125.29 L1352.78 125.29 L1355.79 125.29 L1358.79 125.29 L1361.80 125.29 L1364.81 125.29 L1367.81 125.29 L1370.82 125.29 L1373.83 125.29 L1376.84 125.29 L1379.84 125.29 L1382.85 125.29 L1385.86 125.30 L1388.86 125.30 L1391.87 125.30 L1394.88 125.30 L1397.88 125.31 L1400.89 125.31 L1403.90 125.31 L1406.90 125.32 L1409.91 125.32 L1412.92 125.33 L1415.93 125.33 L1418.93 125.33 L1421.94 125.34 L1424.95 125.34 L1427.95 125.35 L1430.96 125.35 L1433.97 125.36 L1436.98 125.36 L1439.98 125.37 L1442.99 125.37 L1446.00 125.38 L1449.00 125.38 L1452.01 125.38 L1455.02 125.39 L1458.02 125.39 L1461.03 125.40 L1464.04 125.40 L1467.05 125.41 L1470.05 125.41 L1473.06 125.41 L1476.07 125.42 L1479.07 125.42 L1482.08 125.42 L1485.09 125.43 L1488.09 125.43 L1491.10 125.43 L1494.11 125.43 L1497.12 125.43 L1500.12 125.44 L1503.13 125.44 L1506.14 125.44 L1509.14 125.44 L1512.15 125.44 L1515.16 125.44 L1518.16 125.44 L1521.17 125.44 L1524.18 125.44 L1527.18 125.44 L1530.19 125.44 L1533.20 125.44 L1536.21 125.43 L1539.21 125.43 L1542.22 125.43 L1545.23 125.43 L1548.23 125.43 L1551.24 125.43 L1554.25 125.43 L1557.26 125.42 L1560.26 125.42 L1563.27 125.42 L1566.28 125.42 L1569.28 125.42 L1572.29 125.41 L1575.30 125.41 L1578.30 125.41 L1581.31 125.41 L1584.32 125.40 L1587.33 125.40 L1590.33 125.40 L1593.34 125.39 L1596.35 125.39 L1599.35 125.39 L1602.36 125.38 L1605.37 125.38 L1608.37 125.38 L1611.38 125.37 L1614.39 125.37 L1617.39 125.36 L1620.40 125.36 L1623.41 125.35 L1626.42 125.35 L1629.42 125.35 L1632.43 125.34 L1635.44 125.34 L1638.44 125.33 L1641.45 125.33 L1644.46 125.32 L1647.47 125.31 L1650.47 125.31 L1653.48 125.30 L1656.49 125.30 L1659.49 125.29 L1662.50 125.29" stroke="#f03c3c"/>
<path d="M159.00 172.80 L159.08 181.68 L159.15 190.51 L159.23 199.27 L159.30 207.95 L159.38 216.56 L159.45 225.08 L159.53 233.51 L159.60 241.83 L159.68 250.06 L159.75 258.16 L159.83 266.15 L159.90 274.02 L159.98 281.75 L160.05 289.34 L160.13 296.78 L160.20 304.08 L160.28 311.21 L160.35 318.18 L160.43 324.98 L160.50 331.59 L160.58 338.02 L160.65 344.26 L160.73 350.30 L160.80 356.14 L160.88 361.87 L160.95 367.59 L161.03 373.31 L161.10 379.01 L161.18 384.69 L161.26 390.35 L161.33 395.97 L161.41 401.55 L161.48 407.08 L161.56 412.56 L161.63 417.99 L161.71 423.35 L161.78 428.63 L161.86 433.84 L161.93 438.97 L162.01 444.01 L162.08 448.95 L162.16 453.80 L162.23 458.53 L162.31 463.15 L162.38 467.65 L162.46 472.02 L162.53 476.27 L162.61 480.37 L162.68 484.33 L162.76 488.13 L162.83 491.79 L162.91 495.27 L162.98 498.59 L163.06 501.73 L163.13 504.69 L163.21 507.47 L163.28 510.04 L163.36 512.42 L163.44 514.60 L163.51 516.56 L163.59 518.37 L163.66 520.11 L163.74 521.78 L163.81 523.39 L163.89 524.93 L163.96 526.41 L164.04 527.83 L164.11 529.19 L164.19 530.50 L164.26 531.76 L164.34 532.97 L164.41 534.13 L164.49 535.24 L164.56 536.32 L164.64 537.35 L164.71 538.35 L164.79 539.31 L164.86 540.24 L164.94 541.14 L165.01 542.02 L165.09 542.87 L165.16 543.69 L165.24 544.50 L165.31 545.29 L165.39 546.07 L165.47 546.84 L165.54 547.59 L165.62 548.34 L165.69 549.08 L165.77 549.83 L165.84 550.57 L165.92 551.32 L165.99 552.07 L166.07 552.83 L166.14 553.60 L166.22 554.38 L166.29 555.18 L166.37 556.00 L166.44 556.84 L166.52 557.70 L166.59 558.59 L166.67 559.50 L166.74 560.45 L166.82 561.43 L166.89 562.44 L166.97 563.50 L167.04 564.59 L167.12 565.73 L167.19 566.91 L167.27 568.14 L167.34 569.42 L167.42 570.76 L167.49 572.15 L167.57 573.59 L167.65 575.10 L167.72 576.68 L167.80 578.31 L167.87 580.02 L167.95 581.83 L168.02 583.87 L168.32 594.29 L168.62 607.88 L168.92 624.03 L169.22 642.12 L169.52 661.54 L169.83 681.69 L170.13 701.95 L170.43 721.72 L170.73 740.38 L171.03 757.32 L171.33 771.94 L171.63 783.86 L171.93 794.94 L172.23 805.64 L172.53 815.94 L172.83 825.79 L173.13 835.15 L173.43 844.00 L173.73 852.29 L174.03 859.98 L174.34 867.04 L174.64 873.44 L174.94 879.12 L175.24 884.28 L175.54 889.31 L175.84 894.21 L176.14 898.97 L176.44 903.57 L176.74 907.99 L177.04 912.21 L177.34 916.22 L177.64 919.99 L177.94 923.52 L178.24 926.78 L178.55 929.75 L178.85 932.43 L179.15 934.78 L179.45 936.80 L179.75 938.46 L180.05 939.76 L180.35 940.84 L180.65 941.89 L180.95 942.91 L181.25 943.89 L181.55 944.83 L181.85 945.72 L182.15 946.57 L182.45 947.37 L182.76 948.11 L183.06 948.80 L183.36 949.43 L183.66 949.99 L183.96 950.49 L184.26 950.93 L184.56 951.29 L184.86 951.58 L185.16 951.79 L185.46 951.93 L185.76 951.98 L186.06 951.79 L186.36 951.17 L186.66 950.15 L186.97 948.76 L187.27 947.04 L187.57 945.03 L187.87 942.76 L188.17 940.27 L188.47 937.59 L188.77 934.77 L189.07 931.82 L189.37 928.80 L189.67 925.74 L189.97 922.67 L190.27 919.63 L190.57 916.66 L190.87 913.78 L191.17 910.91 L191.48 907.92 L191.78 904.81 L192.08 901.59 L192.38 898.27 L192.68 894.85 L192.98 891.32 L193.28 887.71 L193.58 884.01 L193.88 880.22 L194.18 876.36 L194.48 872.42 L194.78 868.42 L195.08 864.35 L195.38 860.21 L195.69 856.02 L195.99 851.79 L196.29 847.50 L196.59 843.17 L196.89 838.80 L197.19 834.40 L197.49 829.98 L197.79 825.52 L198.09 821.05 L198.39 816.56 L198.69 812.07 L198.99 807.56 L199.29 803.06 L199.59 798.55 L199.90 794.06 L200.20 789.58 L200.50 785.11 L200.80 780.67 L201.10 776.22 L201.40 771.70 L201.70 767.10 L202.00 762.44 L202.30 757.70 L202.60 752.91 L202.90 748.06 L203.20 743.15 L203.50 738.19 L203.80 733.19 L204.11 728.15 L204.41 723.07 L204.71 717.96 L205.01 712.82 L205.31 707.65 L205.61 702.47 L205.91 697.27 L206.21 692.06 L206.51 686.84 L206.81 681.63 L207.11 676.41 L207.41 671.20 L207.71 666.00 L208.01 660.81 L208.31 655.64 L208.62 650.50 L208.92 645.38 L209.22 640.30 L209.52 635.25 L209.82 630.24 L210.12 625.28 L210.42 620.36 L210.72 615.50 L211.02 610.69 L211.32 605.95 L211.62 601.27 L211.92 596.66 L212.22 592.13 L212.52 587.68 L212.83 583.30 L213.13 579.02 L213.43 574.83 L213.73 570.74 L214.03 566.73 L214.33 562.80 L214.63 558.93 L214.93 555.13 L215.23 551.38 L215.53 547.67 L215.83 544.00 L216.13 540.35 L216.43 536.73 L216.73 533.12 L217.04 529.52 L217.34 525.91 L217.64 522.29 L217.94 518.65 L218.24 514.99 L218.54 511.28 L218.84 507.54 L219.14 503.75 L219.44 499.89 L219.74 495.97 L220.04 491.97 L220.34 487.89 L220.64 483.72 L220.94 479.46 L221.24 475.08 L221.55 470.60 L221.85 466.01 L222.15 461.34 L222.45 456.57 L222.75 451.73 L223.05 446.82 L223.35 441.84 L223.65 436.81 L223.95 431.72 L224.25 426.60 L224.55 421.43 L224.85 416.23 L225.15 411.02 L225.45 405.78 L225.76 400.54 L226.06 395.29 L226.36 390.05 L226.66 384.83 L226.96 379.62 L227.26 374.44 L227.56 369.29 L227.86 364.18 L228.16 359.11 L228.46 354.11 L228.76 349.16 L229.06 344.28 L229.36 339.47 L229.66 334.75 L229.97 330.12 L230.27 325.58 L230.57 321.11 L230.87 316.67 L231.17 312.26 L231.47 307.90 L231.77 303.58 L232.07 299.31 L232.37 295.10 L232.67 290.94 L232.97 286.85 L233.27 282.82 L233.57 278.87 L233.87 274.99 L234.18 271.19 L234.48 267.44 L234.78 263.72 L235.08 260.02 L235.38 256.35 L235.68 252.73 L235.98 249.16 L236.28 245.64 L236.58 242.18 L236.88 238.80 L237.18 235.48 L237.48 232.26 L237.78 229.12 L238.08 226.08 L238.38 223.14 L238.69 220.31 L238.99 217.60 L239.29 215.00 L239.59 212.50 L239.89 210.07 L240.19 207.71 L240.49 205.41 L240.79 203.14 L241.09 200.90 L241.39 198.67 L241.69 196.44 L241.99 194.19 L242.29 191.91 L242.59 189.63 L242.90 187.37 L243.20 185.19 L243.50 183.11 L243.80 181.17 L244.10 179.30 L244.40 177.44 L244.70 175.64 L245.00 173.91 L245.30 172.28 L245.60 170.78 L245.90 169.43 L246.20 168.26 L246.50 167.22 L246.80 166.24 L247.11 165.33 L247.41 164.48 L247.71 163.68 L248.01 162.93 L248.31 162.21 L248.61 161.54 L248.91 160.89 L249.21 160.27 L249.51 159.66 L249.81 159.03 L250.11 158.42 L250.41 157.83 L250.71 157.27 L251.01 156.75 L251.31 156.29 L251.62 155.90 L251.92 155.59 L252.22 155.37 L252.52 155.19 L252.82 155.02 L253.12 154.86 L253.42 154.70 L253.72 154.55 L254.02 154.42 L254.32 154.29 L254.62 154.18 L254.92 154.07 L255.22 153.98 L255.52 153.90 L255.83 153.83 L256.13 153.78 L256.43 153.74 L256.73 153.71 L257.03 153.70 L257.33 153.72 L257.63 153.77 L257.93 153.86 L258.23 153.99 L258.53 154.14 L258.83 154.32 L259.13 154.51 L259.43 154.73 L259.73 154.96 L260.04 155.20 L260.34 155.46 L260.64 155.71 L260.94 155.97 L261.24 156.22 L261.54 156.47 L261.84 156.71 L262.14 156.95 L262.44 157.19 L262.74 157.44 L263.04 157.70 L263.34 157.97 L263.64 158.25 L263.94 158.54 L264.25 158.84 L264.55 159.15 L264.85 159.48 L265.15 159.81 L265.45 160.16 L265.75 160.52 L266.05 160.89 L266.35 161.26 L266.65 161.66 L266.95 162.09 L267.25 162.58 L267.55 163.12 L267.85 163.74 L268.15 164.48 L268.45 165.46 L268.76 166.64 L269.06 167.96 L269.36 169.37 L269.66 170.83 L269.96 172.60 L270.26 174.90 L270.56 177.00 L270.86 178.11 L271.16 178.09 L271.46 177.89 L271.76 177.57 L272.06 177.18 L272.36 176.73 L272.66 176.28 L272.97 175.86 L273.27 175.49 L273.57 175.23 L273.87 175.10 L274.17 175.11 L274.47 175.19 L274.77 175.33 L275.07 175.52 L275.37 175.75 L275.67 176.02 L275.97 176.31 L276.27 176.62 L276.57 176.95 L276.87 177.27 L277.18 177.60 L277.48 177.91 L277.78 178.19 L278.08 178.46 L278.38 178.68 L278.68 178.86 L278.98 178.99 L279.28 179.06 L279.58 179.06 L279.88 179.04 L280.18 179.00 L280.48 178.95 L280.78 178.87 L281.08 178.79 L281.38 178.68 L281.69 178.57 L281.99 178.44 L282.29 178.30 L282.59 178.16 L282.89 178.00 L283.19 177.84 L283.49 177.67 L283.79 177.49 L284.09 177.32 L284.39 177.14 L284.69 176.96 L284.99 176.78 L285.29 176.60 L285.59 176.42 L285.90 176.25 L286.20 176.08 L286.50 175.91 L286.80 175.76 L287.10 175.61 L287.40 175.47 L287.70 175.32 L288.00 175.17 L288.30 175.02 L288.60 174.87 L288.90 174.71 L289.20 174.56 L289.50 174.40 L289.80 174.24 L290.11 174.08 L290.41 173.92 L290.71 173.75 L291.01 173.59 L291.31 173.43 L291.61 173.28 L291.91 173.12 L292.21 172.96 L292.51 172.81 L292.81 172.66 L293.11 172.51 L293.41 172.37 L293.71 172.23 L294.01 172.10 L294.31 171.97 L294.62 171.84 L294.92 171.72 L295.22 171.61 L295.52 171.50 L295.82 171.39 L296.12 171.29 L296.42 171.19 L296.72 171.08 L297.02 170.97 L297.32 170.86 L297.62 170.75 L297.92 170.65 L298.22 170.55 L298.52 170.45 L298.83 170.36 L299.13 170.27 L299.43 170.19 L299.73 170.12 L300.03 170.06 L300.33 170.00 L300.63 169.96 L300.93 169.92 L301.23 169.90 L301.53 169.90 L301.83 169.90 L302.13 169.92 L302.43 169.96 L302.73 170.00 L303.04 170.06 L303.34 170.12 L303.64 170.19 L303.94 170.27 L304.24 170.35 L304.54 170.43 L304.84 170.52 L305.14 170.62 L305.44 170.71 L305.74 170.80 L306.04 170.89 L306.34 170.97 L306.64 171.06 L306.94 171.13 L307.25 171.20 L307.55 171.27 L307.85 171.32 L308.15 171.36 L308.45 171.40 L308.75 171.42 L309.05 171.42 L309.35 171.42 L309.65 171.42 L309.95 171.42 L310.25 171.42 L310.55 171.42 L310.85 171.42 L311.15 171.42 L311.45 171.42 L311.76 171.42 L312.06 171.42 L312.36 171.42 L312.66 171.42 L312.96 171.42 L313.26 171.42 L313.56 171.42 L313.86 171.42 L314.16 171.42 L314.46 171.42 L314.76 171.42 L315.06 171.42 L315.36 171.42 L315.66 171.42 L315.97 171.42 L316.27 171.42 L316.57 171.42 L316.87 171.42 L317.17 171.42 L317.47 171.42 L317.77 171.42 L318.07 171.42 L318.37 171.42 L318.67 171.42 L318.97 171.42 L319.27 171.42 L319.57 171.42 L319.87 171.42 L320.18 171.42 L320.48 171.42 L320.78 171.42 L321.08 171.42 L321.38 171.42 L321.68 171.42 L321.98 171.42 L322.28 171.42 L322.58 171.42 L322.88 171.42 L323.18 171.41 L323.48 171.39 L323.78 171.37 L324.08 171.35 L324.38 171.32 L324.69 171.29 L324.99 171.26 L325.29 171.23 L325.59 171.19 L325.89 171.15 L326.19 171.11 L326.49 171.06 L326.79 171.02 L327.09 170.97 L327.39 170.92 L327.69 170.87 L327.99 170.82 L328.29 170.77 L328.59 170.71 L328.90 170.66 L329.20 170.60 L329.50 170.55 L329.80 170.50 L330.10 170.44 L330.40 170.39 L330.70 170.34 L331.00 170.28 L331.30 170.23 L331.60 170.18 L331.90 170.14 L332.20 170.09 L332.50 170.05 L332.80 170.00 L333.11 169.96 L333.41 169.92 L333.71 169.89 L334.01 169.86 L334.31 169.83 L334.61 169.80 L334.91 169.78 L335.21 169.76 L335.51 169.74 L335.81 169.73 L336.11 169.72 L336.41 169.71 L336.71 169.69 L337.01 169.68 L337.32 169.67 L337.62 169.66 L337.92 169.65 L338.22 169.64 L338.52 169.63 L338.82 169.62 L339.12 169.61 L339.42 169.60 L339.72 169.59 L340.02 169.58 L340.32 169.58 L340.62 169.57 L340.92 169.56 L341.22 169.55 L341.52 169.54 L341.83 169.54 L342.13 169.53 L342.43 169.52 L342.73 169.52 L343.03 169.51 L343.33 169.50 L343.63 169.50 L343.93 169.49 L344.23 169.48 L344.53 169.48 L344.83 169.47 L345.13 169.47 L345.43 169.46 L345.73 169.45 L346.04 169.45 L346.34 169.44 L346.64 169.44 L346.94 169.43 L347.24 169.42 L347.54 169.42 L347.84 169.41 L348.14 169.41 L348.44 169.40 L348.74 169.39 L349.04 169.39 L349.34 169.38 L349.64 169.37 L349.94 169.37 L350.25 169.36 L350.55 169.36 L350.85 169.35 L351.15 169.34 L351.45 169.33 L351.75 169.33 L352.05 169.32 L352.35 169.31 L352.65 169.30 L352.95 169.29 L353.25 169.29 L353.55 169.28 L353.85 169.27 L354.15 169.26 L354.46 169.25 L354.76 169.24 L355.06 169.23 L355.36 169.22 L355.66 169.21 L355.96 169.20 L356.26 169.19 L356.56 169.18 L356.86 169.17 L357.16 169.16 L357.46 169.15 L357.76 169.14 L358.06 169.13 L358.36 169.12 L358.66 169.11 L358.97 169.10 L359.27 169.08 L359.57 169.07 L359.87 169.06 L360.17 169.05 L360.47 169.04 L360.77 169.03 L361.07 169.01 L361.37 169.00 L361.67 168.99 L361.97 168.98 L362.27 168.97 L362.57 168.95 L362.87 168.94 L363.18 168.93 L363.48 168.92 L363.78 168.90 L364.08 168.89 L364.38 168.88 L364.68 168.86 L364.98 168.85 L365.28 168.84 L365.58 168.83 L365.88 168.81 L366.18 168.80 L366.48 168.79 L366.78 168.77 L367.08 168.76 L367.39 168.75 L367.69 168.73 L367.99 168.72 L368.29 168.71 L368.59 168.69 L368.89 168.68 L369.19 168.67 L369.49 168.65 L372.50 168.52 L375.50 168.39 L378.51 168.26 L381.52 168.14 L384.52 168.04 L387.53 167.94 L390.54 167.86 L393.55 167.80 L396.55 167.77 L399.56 167.76 L402.57 167.75 L405.57 167.75 L408.58 167.74 L411.59 167.74 L414.60 167.73 L417.60 167.73 L420.61 167.72 L423.62 167.72 L426.62 167.71 L429.63 167.71 L432.64 167.71 L435.64 167.70 L438.65 167.70 L441.66 167.69 L444.67 167.69 L447.67 167.69 L450.68 167.68 L453.69 167.68 L456.69 167.68 L459.70 167.67 L462.71 167.67 L465.71 167.67 L468.72 167.66 L471.73 167.66 L474.74 167.66 L477.74 167.65 L480.75 167.65 L483.76 167.65 L486.76 167.65 L489.77 167.64 L492.78 167.64 L495.78 167.64 L498.79 167.64 L501.80 167.64 L504.81 167.63 L507.81 167.63 L510.82 167.63 L513.83 167.63 L516.83 167.63 L519.84 167.63 L522.85 167.62 L525.85 167.62 L528.86 167.62 L531.87 167.62 L534.88 167.62 L537.88 167.62 L540.89 167.62 L543.90 167.62 L546.90 167.61 L549.91 167.61 L552.92 167.61 L555.92 167.61 L558.93 167.61 L561.94 167.61 L564.94 167.61 L567.95 167.61 L570.96 167.61 L573.97 167.61 L576.97 167.61 L579.98 167.61 L582.99 167.61 L585.99 167.61 L589.00 167.61 L592.01 167.61 L595.02 167.61 L598.02 167.61 L601.03 167.61 L604.04 167.61 L607.04 167.61 L610.05 167.61 L613.06 167.61 L616.06 167.61 L619.07 167.61 L622.08 167.61 L625.09 167.61 L628.09 167.61 L631.10 167.61 L634.11 167.61 L637.11 167.61 L640.12 167.61 L643.13 167.61 L646.13 167.61 L649.14 167.61 L652.15 167.61 L655.15 167.61 L658.16 167.61 L661.17 167.61 L664.18 167.61 L667.18 167.61 L670.19 167.61 L673.20 167.61 L676.20 167.61 L679.21 167.61 L682.22 167.61 L685.23 167.61 L688.23 167.61 L691.24 167.61 L694.25 167.61 L697.25 167.61 L700.26 167.61 L703.27 167.61 L706.27 167.61 L709.28 167.61 L712.29 167.61 L715.30 167.61 L718.30 167.61 L721.31 167.61 L724.32 167.61 L727.32 167.61 L730.33 167.61 L733.34 167.61 L736.34 167.61 L739.35 167.61 L742.36 167.61 L745.37 167.61 L748.37 167.61 L751.38 167.61 L754.39 167.61 L757.39 167.61 L760.40 167.61 L763.41 167.61 L766.41 167.61 L769.42 167.61 L772.43 167.61 L775.44 167.61 L778.44 167.61 L781.45 167.61 L784.46 167.61 L787.46 167.61 L790.47 167.61 L793.48 167.61 L796.48 167.61 L799.49 167.61 L802.50 167.61 L805.50 167.61 L808.51 167.61 L811.52 167.61 L814.53 167.61 L817.53 167.61 L820.54 167.61 L823.55 167.61 L826.55 167.61 L829.56 167.61 L832.57 167.61 L835.58 167.61 L838.58 167.61 L841.59 167.61 L844.60 167.61 L847.60 167.61 L850.61 167.61 L853.62 167.61 L856.62 167.61 L859.63 167.61 L862.64 167.61 L865.64 167.61 L868.65 167.61 L871.66 167.61 L874.67 167.61 L877.67 167.61 L880.68 167.61 L883.69 167.61 L886.69 167.61 L889.70 167.61 L892.71 167.61 L895.72 167.61 L898.72 167.61 L901.73 167.61 L904.74 167.61 L907.74 167.61 L910.75 167.61 L913.76 167.61 L916.76 167.61 L919.77 167.61 L922.78 167.61 L925.79 167.61 L928.79 167.61 L931.80 167.61 L934.81 167.61 L937.81 167.61 L940.82 167.61 L943.83 167.61 L946.83 167.61 L949.84 167.61 L952.85 167.61 L955.86 167.61 L958.86 167.61 L961.87 167.61 L964.88 167.61 L967.88 167.61 L970.89 167.61 L973.90 167.61 L976.90 167.61 L979.91 167.61 L982.92 167.61 L985.93 167.61 L988.93 167.61 L991.94 167.61 L994.95 167.61 L997.95 167.61 L1000.96 167.61 L1003.97 167.61 L1006.97 167.61 L1009.98 167.61 L1012.99 167.61 L1016.00 167.61 L1019.00 167.61 L1022.01 167.61 L1025.02 167.61 L1028.02 167.61 L1031.03 167.61 L1034.04 167.61 L1037.04 167.61 L1040.05 167.61 L1043.06 167.61 L1046.07 167.61 L1049.07 167.61 L1052.08 167.61 L1055.09 167.61 L1058.09 167.61 L1061.10 167.61 L1064.11 167.61 L1067.11 167.61 L1070.12 167.61 L1073.13 167.61 L1076.13 167.61 L1079.14 167.61 L1082.15 167.61 L1085.16 167.61 L1088.16 167.61 L1091.17 167.61 L1094.18 167.61 L1097.18 167.61 L1100.19 167.61 L1103.20 167.61 L1106.20 167.61 L1109.21 167.61 L1112.22 167.61 L1115.23 167.61 L1118.23 167.61 L1121.24 167.61 L1124.25 167.61 L1127.25 167.61 L1130.26 167.61 L1133.27 167.61 L1136.28 167.61 L1139.28 167.61 L1142.29 167.61 L1145.30 167.61 L1148.30 167.61 L1151.31 167.61 L1154.32 167.61 L1157.32 167.61 L1160.33 167.61 L1163.34 167.61 L1166.35 167.61 L1169.35 167.61 L1172.36 167.61 L1175.37 167.61 L1178.37 167.61 L1181.38 167.61 L1184.39 167.61 L1187.39 167.61 L1190.40 167.61 L1193.41 167.61 L1196.41 167.61 L1199.42 167.61 L1202.43 167.61 L1205.44 167.61 L1208.44 167.61 L1211.45 167.61 L1214.46 167.61 L1217.46 167.61 L1220.47 167.61 L1223.48 167.61 L1226.49 167.61 L1229.49 167.61 L1232.50 167.61 L1235.51 167.61 L1238.51 167.61 L1241.52 167.61 L1244.53 167.61 L1247.53 167.61 L1250.54 167.61 L1253.55 167.61 L1256.56 167.61 L1259.56 167.61 L1262.57 167.61 L1265.58 167.61 L1268.58 167.61 L1271.59 167.61 L1274.60 167.61 L1277.60 167.61 L1280.61 167.61 L1283.62 167.61 L1286.62 167.61 L1289.63 167.61 L1292.64 167.61 L1295.65 167.61 L1298.65 167.61 L1301.66 167.61 L1304.67 167.61 L1307.67 167.61 L1310.68 167.61 L1313.69 167.61 L1316.69 167.61 L1319.70 167.61 L1322.71 167.61 L1325.72 167.61 L1328.72 167.61 L1331.73 167.61 L1334.74 167.61 L1337.74 167.61 L1340.75 167.61 L1343.76 167.61 L1346.77 167.61 L1349.77 167.61 L1352.78 167.61 L1355.79 167.61 L1358.79 167.61 L1361.80 167.61 L1364.81 167.61 L1367.81 167.61 L1370.82 167.61 L1373.83 167.61 L1376.84 167.61 L1379.84 167.61 L1382.85 167.61 L1385.86 167.61 L1388.86 167.61 L1391.87 167.61 L1394.88 167.61 L1397.88 167.61 L1400.89 167.61 L1403.90 167.61 L1406.90 167.61 L1409.91 167.61 L1412.92 167.61 L1415.93 167.61 L1418.93 167.61 L1421.94 167.61 L1424.95 167.61 L1427.95 167.61 L1430.96 167.61 L1433.97 167.61 L1436.98 167.61 L1439.98 167.61 L1442.99 167.61 L1446.00 167.61 L1449.00 167.61 L1452.01 167.61 L1455.02 167.61 L1458.02 167.61 L1461.03 167.61 L1464.04 167.61 L1467.05 167.61 L1470.05 167.61 L1473.06 167.61 L1476.07 167.61 L1479.07 167.61 L1482.08 167.61 L1485.09 167.61 L1488.09 167.61 L1491.10 167.61 L1494.11 167.61 L1497.12 167.61 L1500.12 167.61 L1503.13 167.61 L1506.14 167.61 L1509.14 167.61 L1512.15 167.61 L1515.16 167.61 L1518.16 167.61 L1521.17 167.61 L1524.18 167.61 L1527.18 167.61 L1530.19 167.61 L1533.20 167.61 L1536.21 167.61 L1539.21 167.61 L1542.22 167.61 L1545.23 167.61 L1548.23 167.61 L1551.24 167.61 L1554.25 167.61 L1557.26 167.61 L1560.26 167.61 L1563.27 167.61 L1566.28 167.61 L1569.28 167.61 L1572.29 167.61 L1575.30 167.61 L1578.30 167.61 L1581.31 167.61 L1584.32 167.61 L1587.33 167.61 L1590.33 167.61 L1593.34 167.61 L1596.35 167.61 L1599.35 167.61 L1602.36 167.61 L1605.37 167.61 L1608.37 167.61 L1611.38 167.61 L1614.39 167.61 L1617.39 167.61 L1620.40 167.61 L1623.41 167.61 L1626.42 167.61 L1629.42 167.61 L1632.43 167.61 L1635.44 167.61 L1638.44 167.61 L1641.45 167.61 L1644.46 167.61 L1647.47 167.61 L1650.47 167.61 L1653.48 167.61 L1656.49 167.61 L1659.49 167.61 L1662.50 167.61" stroke="#000000"/>
<path d="M159.00 172.80 L159.08 191.17 L159.15 209.63 L159.23 228.16 L159.30 246.76 L159.38 265.45 L159.45 284.21 L159.53 303.05 L159.60 321.97 L159.68 340.96 L159.75 360.03 L159.83 379.17 L159.90 398.39 L159.98 417.68 L160.05 437.04 L160.13 456.48 L160.20 475.99 L160.28 495.57 L160.35 515.23 L160.43 534.95 L160.50 554.75 L160.58 575.01 L160.65 596.04 L160.73 617.72 L160.80 639.93 L160.88 662.55 L160.95 685.45 L161.03 708.51 L161.10 731.61 L161.18 754.62 L161.26 777.43 L161.33 799.91 L161.41 821.94 L161.48 843.39 L161.56 864.15 L161.63 884.09 L161.71 903.10 L161.78 921.04 L161.86 937.79 L161.93 953.24 L162.01 967.26 L162.08 980.57 L162.16 993.88 L162.23 1007.02 L162.31 1019.82 L162.38 1032.10 L162.46 1043.70 L162.53 1054.44 L162.61 1064.17 L162.68 1072.71 L162.76 1079.88 L162.83 1085.53 L162.91 1089.48 L162.98 1092.46 L163.06 1095.28 L163.13 1097.91 L163.21 1100.32 L163.28 1102.45 L163.36 1104.28 L163.44 1105.77 L163.51 1106.88 L163.59 1107.57 L163.66 1107.81 L163.74 1107.58 L163.81 1106.90 L163.89 1105.83 L163.96 1104.42 L164.04 1102.71 L164.11 1100.75 L164.19 1098.59 L164.26 1096.28 L164.34 1093.86 L164.41 1091.38 L164.49 1088.90 L164.56 1086.44 L164.64 1084.08 L164.71 1081.84 L164.79 1079.64 L164.86 1077.36 L164.94 1074.99 L165.01 1072.55 L165.09 1070.03 L165.16 1067.45 L165.24 1064.80 L165.31 1062.10 L165.39 1059.34 L165.47 1056.54 L165.54 1053.69 L165.62 1050.80 L165.69 1047.88 L165.77 1044.93 L165.84 1041.95 L165.92 1038.96 L165.99 1035.95 L166.07 1032.93 L166.14 1029.90 L166.22 1026.87 L166.29 1023.85 L166.37 1020.84 L166.44 1017.83 L166.52 1014.85 L166.59 1011.89 L166.67 1008.96 L166.74 1006.06 L166.82 1003.20 L166.89 1000.38 L166.97 997.61 L167.04 994.89 L167.12 992.23 L167.19 989.63 L167.27 987.09 L167.34 984.63 L167.42 982.24 L167.49 979.93 L167.57 977.68 L167.65 975.46 L167.72 973.25 L167.80 971.06 L167.87 968.89 L167.95 966.73 L168.02 964.60 L168.32 956.21 L168.62 948.09 L168.92 940.20 L169.22 932.54 L169.52 925.09 L169.83 917.84 L170.13 910.77 L170.43 903.87 L170.73 897.12 L171.03 890.50 L171.33 884.01 L171.63 877.64 L171.93 871.42 L172.23 865.36 L172.53 859.45 L172.83 853.67 L173.13 848.01 L173.43 842.45 L173.73 836.99 L174.03 831.62 L174.34 826.30 L174.64 821.05 L174.94 815.83 L175.24 810.64 L175.54 805.46 L175.84 800.29 L176.14 795.10 L176.44 789.89 L176.74 784.64 L177.04 779.34 L177.34 773.99 L177.64 768.60 L177.94 763.19 L178.24 757.75 L178.55 752.29 L178.85 746.81 L179.15 741.32 L179.45 735.81 L179.75 730.30 L180.05 724.78 L180.35 719.26 L180.65 713.75 L180.95 708.24 L181.25 702.73 L181.55 697.24 L181.85 691.77 L182.15 686.32 L182.45 680.89 L182.76 675.49 L183.06 670.11 L183.36 664.77 L183.66 659.47 L183.96 654.21 L184.26 648.99 L184.56 643.82 L184.86 638.70 L185.16 633.64 L185.46 628.63 L185.76 623.68 L186.06 618.80 L186.36 613.99 L186.66 609.25 L186.97 604.59 L187.27 600.00 L187.57 595.50 L187.87 591.08 L188.17 586.75 L188.47 582.51 L188.77 578.37 L189.07 574.32 L189.37 570.35 L189.67 566.45 L189.97 562.62 L190.27 558.86 L190.57 555.16 L190.87 551.52 L191.17 547.93 L191.48 544.40 L191.78 540.91 L192.08 537.46 L192.38 534.05 L192.68 530.67 L192.98 527.32 L193.28 524.00 L193.58 520.70 L193.88 517.42 L194.18 514.14 L194.48 510.88 L194.78 507.63 L195.08 504.37 L195.38 501.11 L195.69 497.84 L195.99 494.56 L196.29 491.27 L196.59 487.95 L196.89 484.61 L197.19 481.24 L197.49 477.85 L197.79 474.43 L198.09 471.00 L198.39 467.56 L198.69 464.10 L198.99 460.64 L199.29 457.16 L199.59 453.68 L199.90 450.19 L200.20 446.69 L200.50 443.19 L200.80 439.68 L201.10 436.18 L201.40 432.67 L201.70 429.16 L202.00 425.66 L202.30 422.16 L202.60 418.67 L202.90 415.18 L203.20 411.70 L203.50 408.23 L203.80 404.77 L204.11 401.32 L204.41 397.88 L204.71 394.46 L205.01 391.06 L205.31 387.67 L205.61 384.30 L205.91 380.95 L206.21 377.62 L206.51 374.31 L206.81 371.03 L207.11 367.78 L207.41 364.55 L207.71 361.34 L208.01 358.17 L208.31 355.03 L208.62 351.92 L208.92 348.84 L209.22 345.80 L209.52 342.79 L209.82 339.82 L210.12 336.89 L210.42 334.00 L210.72 331.15 L211.02 328.34 L211.32 325.58 L211.62 322.87 L211.92 320.21 L212.22 317.61 L212.52 315.06 L212.83 312.55 L213.13 310.07 L213.43 307.64 L213.73 305.24 L214.03 302.87 L214.33 300.52 L214.63 298.19 L214.93 295.88 L215.23 293.58 L215.53 291.29 L215.83 289.00 L216.13 286.71 L216.43 284.13 L216.73 281.65 L217.04 279.25 L217.34 276.90 L217.64 274.60 L217.94 272.32 L218.24 270.07 L218.54 267.81 L218.84 265.56 L219.14 263.30 L219.44 261.03 L219.74 258.75 L220.04 256.44 L220.34 254.11 L220.64 251.75 L220.94 249.26 L221.24 246.73 L221.55 244.17 L221.85 241.57 L222.15 238.93 L222.45 236.27 L222.75 233.59 L223.05 230.89 L223.35 228.17 L223.65 225.44 L223.95 222.70 L224.25 219.95 L224.55 217.20 L224.85 214.46 L225.15 211.72 L225.45 208.99 L225.76 206.27 L226.06 203.57 L226.36 200.89 L226.66 198.24 L226.96 195.61 L227.26 193.02 L227.56 190.46 L227.86 187.94 L228.16 185.47 L228.46 183.04 L228.76 180.66 L229.06 178.33 L229.36 176.05 L229.66 173.82 L229.97 171.64 L230.27 169.50 L230.57 167.40 L230.87 165.34 L231.17 163.32 L231.47 161.34 L231.77 159.39 L232.07 157.47 L232.37 155.58 L232.67 153.72 L232.97 151.89 L233.27 150.08 L233.57 148.30 L233.87 146.53 L234.18 144.79 L234.48 143.06 L234.78 141.34 L235.08 139.65 L235.38 137.97 L235.68 136.32 L235.98 134.68 L236.28 133.06 L236.58 131.47 L236.88 129.89 L237.18 128.34 L237.48 126.81 L237.78 125.30 L238.08 123.81 L238.38 122.35 L238.69 120.91 L238.99 119.50 L239.29 118.11 L239.59 116.75 L239.89 115.42 L240.19 114.11 L240.49 112.82 L240.79 111.57 L241.09 110.34 L241.39 109.13 L241.69 107.95 L241.99 106.80 L242.29 105.66 L242.59 104.56 L242.90 103.47 L243.20 102.41 L243.50 101.37 L243.80 100.35 L244.10 99.35 L244.40 98.37 L244.70 97.41 L245.00 96.47 L245.30 95.55 L245.60 94.65 L245.90 93.77 L246.20 92.90 L246.50 92.05 L246.80 91.22 L247.11 90.40 L247.41 89.61 L247.71 88.83 L248.01 88.07 L248.31 87.32 L248.61 86.59 L248.91 85.88 L249.21 85.18 L249.51 84.50 L249.81 83.84 L250.11 83.20 L250.41 82.57 L250.71 81.95 L251.01 81.35 L251.31 80.77 L251.62 80.20 L251.92 79.65 L252.22 79.12 L252.52 78.60 L252.82 78.09 L253.12 77.60 L253.42 77.13 L253.72 76.67 L254.02 76.22 L254.32 75.79 L254.62 75.38 L254.92 74.98 L255.22 74.59 L255.52 74.22 L255.83 73.86 L256.13 73.52 L256.43 73.19 L256.73 72.87 L257.03 72.57 L257.33 72.28 L257.63 72.00 L257.93 71.74 L258.23 71.49 L258.53 71.26 L258.83 71.03 L259.13 70.83 L259.43 70.63 L259.73 70.45 L260.04 70.27 L260.34 70.12 L260.64 69.97 L260.94 69.84 L261.24 69.71 L261.54 69.60 L261.84 69.51 L262.14 69.42 L262.44 69.35 L262.74 69.28 L263.04 69.23 L263.34 69.19 L263.64 69.17 L263.94 69.15 L264.25 69.14 L264.55 69.15 L264.85 69.17 L265.15 69.19 L265.45 69.23 L265.75 69.28 L266.05 69.34 L266.35 69.41 L266.65 69.48 L266.95 69.57 L267.25 69.67 L267.55 69.78 L267.85 69.90 L268.15 70.03 L268.45 70.17 L268.76 70.31 L269.06 70.47 L269.36 70.64 L269.66 70.81 L269.96 71.00 L270.26 71.19 L270.56 71.39 L270.86 71.60 L271.16 71.82 L271.46 72.05 L271.76 72.28 L272.06 72.53 L272.36 72.78 L272.66 73.04 L272.97 73.31 L273.27 73.58 L273.57 73.87 L273.87 74.16 L274.17 74.45 L274.47 74.76 L274.77 75.07 L275.07 75.39 L275.37 75.72 L275.67 76.05 L275.97 76.39 L276.27 76.74 L276.57 77.09 L276.87 77.45 L277.18 77.81 L277.48 78.18 L277.78 78.56 L278.08 78.94 L278.38 79.33 L278.68 79.73 L278.98 80.13 L279.28 80.53 L279.58 80.94 L279.88 81.36 L280.18 81.78 L280.48 82.21 L280.78 82.64 L281.08 83.07 L281.38 83.51 L281.69 83.96 L281.99 84.41 L282.29 84.86 L282.59 85.32 L282.89 85.78 L283.19 86.25 L283.49 86.71 L283.79 87.19 L284.09 87.66 L284.39 88.14 L284.69 88.63 L284.99 89.11 L285.29 89.60 L285.59 90.10 L285.90 90.59 L286.20 91.09 L286.50 91.59 L286.80 92.09 L287.10 92.60 L287.40 93.11 L287.70 93.62 L288.00 94.13 L288.30 94.64 L288.60 95.16 L288.90 95.68 L289.20 96.20 L289.50 96.72 L289.80 97.24 L290.11 97.76 L290.41 98.29 L290.71 98.81 L291.01 99.34 L291.31 99.87 L291.61 100.40 L291.91 100.93 L292.21 101.45 L292.51 101.98 L292.81 102.51 L293.11 103.04 L293.41 103.57 L293.71 104.10 L294.01 104.63 L294.31 105.16 L294.62 105.69 L294.92 106.22 L295.22 106.75 L295.52 107.27 L295.82 107.80 L296.12 108.32 L296.42 108.85 L296.72 109.37 L297.02 109.89 L297.32 110.41 L297.62 110.93 L297.92 111.44 L298.22 111.96 L298.52 112.47 L298.83 112.98 L299.13 113.49 L299.43 113.99 L299.73 114.50 L300.03 115.00 L300.33 115.49 L300.63 115.99 L300.93 116.48 L301.23 116.97 L301.53 117.46 L301.83 117.94 L302.13 118.42 L302.43 118.90 L302.73 119.37 L303.04 119.84 L303.34 120.30 L303.64 120.76 L303.94 121.22 L304.24 121.68 L304.54 122.13 L304.84 122.57 L305.14 123.01 L305.44 123.45 L305.74 123.89 L306.04 124.32 L306.34 124.74 L306.64 125.17 L306.94 125.59 L307.25 126.00 L307.55 126.41 L307.85 126.82 L308.15 127.22 L308.45 127.62 L308.75 128.01 L309.05 128.40 L309.35 128.79 L309.65 129.17 L309.95 129.55 L310.25 129.92 L310.55 130.29 L310.85 130.66 L311.15 131.02 L311.45 131.38 L311.76 131.73 L312.06 132.08 L312.36 132.42 L312.66 132.76 L312.96 133.10 L313.26 133.43 L313.56 133.76 L313.86 134.08 L314.16 134.40 L314.46 134.71 L314.76 135.02 L315.06 135.33 L315.36 135.63 L315.66 135.92 L315.97 136.22 L316.27 136.50 L316.57 136.79 L316.87 137.06 L317.17 137.34 L317.47 137.61 L317.77 137.87 L318.07 138.13 L318.37 138.38 L318.67 138.64 L318.97 138.88 L319.27 139.12 L319.57 139.36 L319.87 139.59 L320.18 139.82 L320.48 140.04 L320.78 140.26 L321.08 140.47 L321.38 140.68 L321.68 140.88 L321.98 141.08 L322.28 141.27 L322.58 141.46 L322.88 141.64 L323.18 141.82 L323.48 142.00 L323.78 142.17 L324.08 142.33 L324.38 142.49 L324.69 142.64 L324.99 142.79 L325.29 142.94 L325.59 143.07 L325.89 143.21 L326.19 143.34 L326.49 143.46 L326.79 143.58 L327.09 143.70 L327.39 143.81 L327.69 143.91 L327.99 144.01 L328.29 144.11 L328.59 144.20 L328.90 144.29 L329.20 144.37 L329.50 144.45 L329.80 144.53 L330.10 144.60 L330.40 144.66 L330.70 144.73 L331.00 144.79 L331.30 144.84 L331.60 144.90 L331.90 144.94 L332.20 144.99 L332.50 145.03 L332.80 145.07 L333.11 145.10 L333.41 145.14 L333.71 145.17 L334.01 145.19 L334.31 145.21 L334.61 145.23 L334.91 145.25 L335.21 145.26 L335.51 145.27 L335.81 145.28 L336.11 145.29 L336.41 145.29 L336.71 145.29 L337.01 145.29 L337.32 145.29 L337.62 145.28 L337.92 145.27 L338.22 145.26 L338.52 145.25 L338.82 145.24 L339.12 145.22 L339.42 145.20 L339.72 145.18 L340.02 145.16 L340.32 145.14 L340.62 145.11 L340.92 145.08 L341.22 145.06 L341.52 145.03 L341.83 145.00 L342.13 144.97 L342.43 144.93 L342.73 144.90 L343.03 144.86 L343.33 144.83 L343.63 144.79 L343.93 144.75 L344.23 144.72 L344.53 144.68 L344.83 144.64 L345.13 144.60 L345.43 144.56 L345.73 144.52 L346.04 144.48 L346.34 144.44 L346.64 144.40 L346.94 144.35 L347.24 144.31 L347.54 144.27 L347.84 144.23 L348.14 144.19 L348.44 144.15 L348.74 144.11 L349.04 144.07 L349.34 144.03 L349.64 143.99 L349.94 143.95 L350.25 143.92 L350.55 143.88 L350.85 143.84 L351.15 143.81 L351.45 143.77 L351.75 143.74 L352.05 143.71 L352.35 143.68 L352.65 143.65 L352.95 143.62 L353.25 143.60 L353.55 143.57 L353.85 143.55 L354.15 143.52 L354.46 143.49 L354.76 143.46 L355.06 143.43 L355.36 143.39 L355.66 143.35 L355.96 143.31 L356.26 143.26 L356.56 143.20 L356.86 143.14 L357.16 143.07 L357.46 143.00 L357.76 142.95 L358.06 142.90 L358.36 142.85 L358.66 142.80 L358.97 142.74 L359.27 142.69 L359.57 142.64 L359.87 142.59 L360.17 142.53 L360.47 142.48 L360.77 142.43 L361.07 142.38 L361.37 142.32 L361.67 142.27 L361.97 142.22 L362.27 142.17 L362.57 142.12 L362.87 142.07 L363.18 142.02 L363.48 141.97 L363.78 141.92 L364.08 141.88 L364.38 141.83 L364.68 141.79 L364.98 141.74 L365.28 141.70 L365.58 141.66 L365.88 141.62 L366.18 141.58 L366.48 141.54 L366.78 141.50 L367.08 141.47 L367.39 141.44 L367.69 141.40 L367.99 141.37 L368.29 141.35 L368.59 141.32 L368.89 141.30 L369.19 141.27 L369.49 141.25 L372.50 141.17 L375.50 141.18 L378.51 141.19 L381.52 141.21 L384.52 141.23 L387.53 141.25 L390.54 141.27 L393.55 141.29 L396.55 141.32 L399.56 141.33 L402.57 141.35 L405.57 141.37 L408.58 141.38 L411.59 141.40 L414.60 141.42 L417.60 141.44 L420.61 141.46 L423.62 141.48 L426.62 141.50 L429.63 141.52 L432.64 141.53 L435.64 141.55 L438.65 141.56 L441.66 141.58 L444.67 141.59 L447.67 141.60 L450.68 141.61 L453.69 141.62 L456.69 141.63 L459.70 141.63 L462.71 141.64 L465.71 141.64 L468.72 141.64 L471.73 141.65 L474.74 141.65 L477.74 141.65 L480.75 141.65 L483.76 141.66 L486.76 141.66 L489.77 141.66 L492.78 141.67 L495.78 141.67 L498.79 141.67 L501.80 141.67 L504.81 141.68 L507.81 141.68 L510.82 141.68 L513.83 141.68 L516.83 141.69 L519.84 141.69 L522.85 141.69 L525.85 141.69 L528.86 141.69 L531.87 141.70 L534.88 141.70 L537.88 141.70 L540.89 141.70 L543.90 141.70 L546.90 141.70 L549.91 141.71 L552.92 141.71 L555.92 141.71 L558.93 141.71 L561.94 141.71 L564.94 141.71 L567.95 141.72 L570.96 141.72 L573.97 141.72 L576.97 141.72 L579.98 141.72 L582.99 141.72 L585.99 141.72 L589.00 141.72 L592.01 141.73 L595.02 141.73 L598.02 141.73 L601.03 141.73 L604.04 141.73 L607.04 141.73 L610.05 141.73 L613.06 141.73 L616.06 141.73 L619.07 141.74 L622.08 141.74 L625.09 141.74 L628.09 141.74 L631.10 141.74 L634.11 141.74 L637.11 141.74 L640.12 141.74 L643.13 141.74 L646.13 141.74 L649.14 141.75 L652.15 141.75 L655.15 141.75 L658.16 141.75 L661.17 141.75 L664.18 141.75 L667.18 141.75 L670.19 141.75 L673.20 141.75 L676.20 141.75 L679.21 141.75 L682.22 141.76 L685.23 141.76 L688.23 141.76 L691.24 141.76 L694.25 141.76 L697.25 141.76 L700.26 141.76 L703.27 141.76 L706.27 141.76 L709.28 141.76 L712.29 141.77 L715.30 141.77 L718.30 141.77 L721.31 141.77 L724.32 141.77 L727.32 141.77 L730.33 141.77 L733.34 141.77 L736.34 141.77 L739.35 141.78 L742.36 141.78 L745.37 141.78 L748.37 141.78 L751.38 141.78 L754.39 141.78 L757.39 141.78 L760.40 141.79 L763.41 141.79 L766.41 141.79 L769.42 141.79 L772.43 141.79 L775.44 141.79 L778.44 141.79 L781.45 141.80 L784.46 141.80 L787.46 141.80 L790.47 141.80 L793.48 141.80 L796.48 141.80 L799.49 141.81 L802.50 141.81 L805.50 141.81 L808.51 141.81 L811.52 141.81 L814.53 141.81 L817.53 141.81 L820.54 141.82 L823.55 141.82 L826.55 141.82 L829.56 141.82 L832.57 141.82 L835.58 141.82 L838.58 141.83 L841.59 141.83 L844.60 141.83 L847.60 141.83 L850.61 141.83 L853.62 141.83 L856.62 141.83 L859.63 141.84 L862.64 141.84 L865.64 141.84 L868.65 141.84 L871.66 141.84 L874.67 141.84 L877.67 141.85 L880.68 141.85 L883.69 141.85 L886.69 141.85 L889.70 141.85 L892.71 141.85 L895.72 141.85 L898.72 141.86 L901.73 141.86 L904.74 141.86 L907.74 141.86 L910.75 141.86 L913.76 141.86 L916.76 141.87 L919.77 141.87 L922.78 141.87 L925.79 141.87 L928.79 141.87 L931.80 141.87 L934.81 141.87 L937.81 141.88 L940.82 141.88 L943.83 141.88 L946.83 141.88 L949.84 141.88 L952.85 141.88 L955.86 141.88 L958.86 141.89 L961.87 141.89 L964.88 141.89 L967.88 141.89 L970.89 141.89 L973.90 141.89 L976.90 141.90 L979.91 141.90 L982.92 141.90 L985.93 141.90 L988.93 141.90 L991.94 141.90 L994.95 141.90 L997.95 141.91 L1000.96 141.91 L1003.97 141.91 L1006.97 141.91 L1009.98 141.91 L1012.99 141.91 L1016.00 141.92 L1019.00 141.92 L1022.01 141.92 L1025.02 141.92 L1028.02 141.92 L1031.03 141.92 L1034.04 141.92 L1037.04 141.93 L1040.05 141.93 L1043.06 141.93 L1046.07 141.93 L1049.07 141.93 L1052.08 141.93 L1055.09 141.94 L1058.09 141.94 L1061.10 141.94 L1064.11 141.94 L1067.11 141.94 L1070.12 141.94 L1073.13 141.94 L1076.13 141.95 L1079.14 141.95 L1082.15 141.95 L1085.16 141.95 L1088.16 141.95 L1091.17 141.95 L1094.18 141.96 L1097.18 141.96 L1100.19 141.96 L1103.20 141.96 L1106.20 141.96 L1109.21 141.96 L1112.22 141.96 L1115.23 141.97 L1118.23 141.97 L1121.24 141.97 L1124.25 141.97 L1127.25 141.97 L1130.26 141.97 L1133.27 141.98 L1136.28 141.98 L1139.28 141.98 L1142.29 141.98 L1145.30 141.98 L1148.30 141.98 L1151.31 141.98 L1154.32 141.99 L1157.32 141.99 L1160.33 141.99 L1163.34 141.99 L1166.35 141.99 L1169.35 141.99 L1172.36 141.99 L1175.37 142.00 L1178.37 142.00 L1181.38 142.00 L1184.39 142.00 L1187.39 142.00 L1190.40 142.00 L1193.41 142.01 L1196.41 142.01 L1199.42 142.01 L1202.43 142.01 L1205.44 142.01 L1208.44 142.01 L1211.45 142.01 L1214.46 142.02 L1217.46 142.02 L1220.47 142.02 L1223.48 142.02 L1226.49 142.02 L1229.49 142.02 L1232.50 142.03 L1235.51 142.03 L1238.51 142.03 L1241.52 142.03 L1244.53 142.03 L1247.53 142.03 L1250.54 142.03 L1253.55 142.04 L1256.56 142.04 L1259.56 142.04 L1262.57 142.04 L1265.58 142.04 L1268.58 142.04 L1271.59 142.05 L1274.60 142.05 L1277.60 142.05 L1280.61 142.05 L1283.62 142.05 L1286.62 142.05 L1289.63 142.05 L1292.64 142.06 L1295.65 142.06 L1298.65 142.06 L1301.66 142.06 L1304.67 142.06 L1307.67 142.06 L1310.68 142.07 L1313.69 142.07 L1316.69 142.07 L1319.70 142.07 L1322.71 142.07 L1325.72 142.07 L1328.72 142.07 L1331.73 142.08 L1334.74 142.08 L1337.74 142.08 L1340.75 142.08 L1343.76 142.08 L1346.77 142.08 L1349.77 142.09 L1352.78 142.09 L1355.79 142.09 L1358.79 142.09 L1361.80 142.09 L1364.81 142.09 L1367.81 142.09 L1370.82 142.10 L1373.83 142.10 L1376.84 142.10 L1379.84 142.10 L1382.85 142.10 L1385.86 142.10 L1388.86 142.10 L1391.87 142.11 L1394.88 142.11 L1397.88 142.11 L1400.89 142.11 L1403.90 142.11 L1406.90 142.11 L1409.91 142.12 L1412.92 142.12 L1415.93 142.12 L1418.93 142.12 L1421.94 142.12 L1424.95 142.12 L1427.95 142.12 L1430.96 142.13 L1433.97 142.13 L1436.98 142.13 L1439.98 142.13 L1442.99 142.13 L1446.00 142.13 L1449.00 142.14 L1452.01 142.14 L1455.02 142.14 L1458.02 142.14 L1461.03 142.14 L1464.04 142.14 L1467.05 142.14 L1470.05 142.15 L1473.06 142.15 L1476.07 142.15 L1479.07 142.15 L1482.08 142.15 L1485.09 142.15 L1488.09 142.16 L1491.10 142.16 L1494.11 142.16 L1497.12 142.16 L1500.12 142.16 L1503.13 142.16 L1506.14 142.16 L1509.14 142.17 L1512.15 142.17 L1515.16 142.17 L1518.16 142.17 L1521.17 142.17 L1524.18 142.17 L1527.18 142.18 L1530.19 142.18 L1533.20 142.18 L1536.21 142.18 L1539.21 142.18 L1542.22 142.18 L1545.23 142.18 L1548.23 142.19 L1551.24 142.19 L1554.25 142.19 L1557.26 142.19 L1560.26 142.19 L1563.27 142.19 L1566.28 142.20 L1569.28 142.20 L1572.29 142.20 L1575.30 142.20 L1578.30 142.20 L1581.31 142.20 L1584.32 142.20 L1587.33 142.21 L1590.33 142.21 L1593.34 142.21 L1596.35 142.21 L1599.35 142.21 L1602.36 142.21 L1605.37 142.21 L1608.37 142.22 L1611.38 142.22 L1614.39 142.22 L1617.39 142.22 L1620.40 142.22 L1623.41 142.22 L1626.42 142.23 L1629.42 142.23 L1632.43 142.23 L1635.44 142.23 L1638.44 142.23 L1641.45 142.23 L1644.46 142.23 L1647.47 142.24 L1650.47 142.24 L1653.48 142.24 L1656.49 142.24 L1659.49 142.24 L1662.50 142.24" stroke="#8000ff"/>
</g>
<text x="159.00" y="1306" font-size="51" text-anchor="middle">0</text><text x="459.70" y="1306" font-size="51" text-anchor="middle">100</text><text x="760.40" y="1306" font-size="51" text-anchor="middle">200</text><text x="1061.10" y="1306" font-size="51" text-anchor="middle">300</text><text x="1361.80" y="1306" font-size="51" text-anchor="middle">400</text><text x="1662.50" y="1306" font-size="51" text-anchor="middle">500</text><text x="133" y="186.40" font-size="51" text-anchor="end">0</text><text x="133" y="491.96" font-size="51" text-anchor="end"><tspan dy="4">&#8722;</tspan><tspan dx="-2.5" dy="-4">2</tspan></text><text x="133" y="797.52" font-size="51" text-anchor="end"><tspan dy="4">&#8722;</tspan><tspan dx="-2.5" dy="-4">4</tspan></text><text x="133" y="1103.08" font-size="51" text-anchor="end"><tspan dy="4">&#8722;</tspan><tspan dx="-2.5" dy="-4">6</tspan></text>
<text x="912.6" y="1371.1" font-size="64.5" letter-spacing="-0.45" text-anchor="middle">Time (s)</text>
<text transform="translate(63 594.4) rotate(-90)" font-size="63.5" text-anchor="middle">Moment(N&#183;m)</text>
<line x1="188" y1="337.9" x2="188" y2="33.2" stroke="#000" stroke-width="4.4" fill="none" stroke-dasharray="18 11.44"/>
<line x1="791.9" y1="35.4" x2="190" y2="35.4" stroke="#000" stroke-width="4.4" fill="none" stroke-dasharray="17.8 11.4"/>
<line x1="791.9" y1="47.1" x2="791.9" y2="336" stroke="#000" stroke-width="4.4" fill="none" stroke-dasharray="17.9 11.4"/>
<line x1="786.9" y1="335.9" x2="186" y2="335.9" stroke="#000" stroke-width="4.4" fill="none" stroke-dasharray="18 11.145"/>
<line x1="617.2" y1="348.6" x2="730" y2="499" stroke="#000" stroke-width="4.4" shape-rendering="crispEdges"/>
<polygon points="719,496.8 725.5,496.8 731.2,489.5 731.5,487.8 734.8,488.2 746.2,516 746.2,520 742.5,520 719,499.2" fill="#000"/>
<rect x="1026.2" y="227.3" width="632.6" height="201.4" fill="#fff" stroke="#000" stroke-width="2.6"/><line x1="1032" y1="255.00" x2="1119" y2="255.00" stroke="#0000ff" stroke-width="4" stroke-linecap="round"/><text x="1128.3" y="267.60" font-size="38.85">SMC Moment</text><line x1="1032" y1="304.00" x2="1119" y2="304.00" stroke="#f03c3c" stroke-width="4" stroke-linecap="round"/><text x="1128.3" y="316.30" font-size="38.85">SMC Moment With Uncrertainty</text><line x1="1032" y1="352.00" x2="1119" y2="352.00" stroke="#000000" stroke-width="4" stroke-linecap="round"/><text x="1128.3" y="365.00" font-size="38.85">SSC Moment With Uncrertainty</text><line x1="1032" y1="401.00" x2="1119" y2="401.00" stroke="#8000ff" stroke-width="4" stroke-linecap="round"/><text x="1128.3" y="413.70" font-size="38.85">SMC Moment With Observer</text>
<rect x="755" y="528.5" width="750.5" height="515" fill="#fff"/><path d="M792.96 530L792.96 539.5M792.96 1042L792.96 1032.5M867.82 530L867.82 539.5M867.82 1042L867.82 1032.5M942.68 530L942.68 539.5M942.68 1042L942.68 1032.5M1017.54 530L1017.54 539.5M1017.54 1042L1017.54 1032.5M1092.40 530L1092.40 539.5M1092.40 1042L1092.40 1032.5M1167.26 530L1167.26 539.5M1167.26 1042L1167.26 1032.5M1242.12 530L1242.12 539.5M1242.12 1042L1242.12 1032.5M1316.98 530L1316.98 539.5M1316.98 1042L1316.98 1032.5M1391.84 530L1391.84 539.5M1391.84 1042L1391.84 1032.5M1466.70 530L1466.70 539.5M1466.70 1042L1466.70 1032.5M830.39 530L830.39 535M830.39 1042L830.39 1037M905.25 530L905.25 535M905.25 1042L905.25 1037M980.11 530L980.11 535M980.11 1042L980.11 1037M1054.97 530L1054.97 535M1054.97 1042L1054.97 1037M1129.83 530L1129.83 535M1129.83 1042L1129.83 1037M1204.69 530L1204.69 535M1204.69 1042L1204.69 1037M1279.55 530L1279.55 535M1279.55 1042L1279.55 1037M1354.41 530L1354.41 535M1354.41 1042L1354.41 1037M1429.27 530L1429.27 535M1429.27 1042L1429.27 1037M756.5 990.92L766 990.92M1504 990.92L1494.5 990.92M756.5 888.16L766 888.16M1504 888.16L1494.5 888.16M756.5 785.40L766 785.40M1504 785.40L1494.5 785.40M756.5 682.64L766 682.64M1504 682.64L1494.5 682.64M756.5 579.88L766 579.88M1504 579.88L1494.5 579.88M756.5 939.54L761.5 939.54M1504 939.54L1499 939.54M756.5 836.78L761.5 836.78M1504 836.78L1499 836.78M756.5 734.02L761.5 734.02M1504 734.02L1499 734.02M756.5 631.26L761.5 631.26M1504 631.26L1499 631.26" stroke="#000" stroke-width="3.2" fill="none"/><g clip-path="url(#ci)" fill="none" stroke-width="2.6" stroke-linejoin="round" shape-rendering="crispEdges"><path d="M748.04 1891.06 L748.42 1885.38 L748.79 1879.56 L749.17 1873.59 L749.54 1867.51 L749.92 1861.32 L750.29 1855.06 L750.66 1848.72 L751.04 1842.34 L751.41 1835.93 L751.79 1829.51 L752.16 1823.09 L752.54 1816.69 L752.91 1810.34 L753.28 1804.04 L753.66 1797.68 L754.03 1791.22 L754.41 1784.66 L754.78 1778.01 L755.16 1771.27 L755.53 1764.44 L755.90 1757.53 L756.28 1750.55 L756.65 1743.50 L757.03 1736.39 L757.40 1729.22 L757.78 1721.99 L758.15 1714.72 L758.52 1707.40 L758.90 1700.05 L759.27 1692.66 L759.65 1685.24 L760.02 1677.81 L760.40 1670.35 L760.77 1662.88 L761.14 1655.41 L761.52 1647.93 L761.89 1640.46 L762.27 1632.99 L762.64 1625.54 L763.02 1618.11 L763.39 1610.69 L763.76 1603.31 L764.14 1595.96 L764.51 1588.66 L764.89 1581.39 L765.26 1574.18 L765.64 1567.01 L766.01 1559.91 L766.38 1552.88 L766.76 1545.91 L767.13 1539.02 L767.51 1532.20 L767.88 1525.48 L768.26 1518.84 L768.63 1512.30 L769.00 1505.86 L769.38 1499.53 L769.75 1493.30 L770.13 1487.19 L770.50 1481.21 L770.88 1475.35 L771.25 1469.62 L771.62 1463.96 L772.00 1458.36 L772.37 1452.82 L772.75 1447.34 L773.12 1441.91 L773.50 1436.53 L773.87 1431.21 L774.25 1425.94 L774.62 1420.72 L774.99 1415.54 L775.37 1410.42 L775.74 1405.34 L776.12 1400.30 L776.49 1395.31 L776.87 1390.37 L777.24 1385.46 L777.61 1380.60 L777.99 1375.78 L778.36 1370.99 L778.74 1366.25 L779.11 1361.53 L779.49 1356.86 L779.86 1352.22 L780.23 1347.61 L780.61 1343.03 L780.98 1338.48 L781.36 1333.96 L781.73 1329.47 L782.11 1325.01 L782.48 1320.58 L782.85 1316.17 L783.23 1311.78 L783.60 1307.41 L783.98 1303.07 L784.35 1298.74 L784.73 1294.42 L785.10 1290.11 L785.47 1285.81 L785.85 1281.52 L786.22 1277.24 L786.60 1272.96 L786.97 1268.70 L787.35 1264.45 L787.72 1260.21 L788.09 1255.98 L788.47 1251.76 L788.84 1247.55 L789.22 1243.36 L789.59 1239.17 L789.97 1235.01 L790.34 1230.85 L790.71 1226.71 L791.09 1222.58 L791.46 1218.47 L791.84 1214.37 L792.21 1210.29 L792.59 1206.22 L792.96 1202.17 L793.33 1198.13 L793.71 1194.11 L794.08 1190.11 L794.46 1186.13 L794.83 1182.16 L795.21 1178.21 L795.58 1174.28 L795.95 1170.37 L796.33 1166.48 L796.70 1162.61 L797.08 1158.76 L797.45 1154.93 L797.83 1151.12 L798.20 1147.33 L798.57 1143.56 L798.95 1139.81 L799.32 1136.09 L799.70 1132.38 L800.07 1128.71 L800.45 1125.05 L800.82 1121.42 L801.19 1117.81 L801.57 1114.23 L801.94 1110.67 L802.32 1107.14 L802.69 1103.63 L803.07 1100.14 L803.44 1096.69 L803.81 1093.26 L804.19 1089.86 L804.56 1086.87 L804.94 1083.83 L805.31 1080.73 L805.69 1077.60 L806.06 1074.42 L806.43 1071.22 L806.81 1068.00 L807.18 1064.76 L807.56 1061.52 L807.93 1058.28 L808.31 1055.04 L808.68 1051.81 L809.05 1048.59 L809.43 1045.40 L809.80 1042.23 L810.18 1039.11 L810.55 1036.04 L810.93 1033.04 L811.30 1030.08 L811.68 1027.18 L812.05 1024.33 L812.42 1021.54 L812.80 1018.80 L813.17 1016.10 L813.55 1013.46 L813.92 1010.87 L814.30 1008.32 L814.67 1005.82 L815.04 1003.37 L815.42 1000.97 L815.79 998.60 L816.17 996.29 L816.54 994.01 L816.92 991.78 L817.29 989.59 L817.66 987.44 L818.04 985.33 L818.41 983.26 L818.79 981.22 L819.16 979.23 L819.54 977.26 L819.91 975.34 L820.28 973.45 L820.66 971.59 L821.03 969.77 L821.41 967.98 L821.78 966.22 L822.16 964.49 L822.53 962.79 L822.90 961.11 L823.28 959.47 L823.65 957.85 L824.03 956.26 L824.40 954.69 L824.78 953.15 L825.15 951.63 L825.52 950.14 L825.90 948.67 L826.27 947.21 L826.65 945.78 L827.02 944.37 L827.40 942.97 L827.77 941.60 L828.14 940.24 L828.52 938.89 L828.89 937.57 L829.27 936.25 L829.64 934.95 L830.02 933.66 L830.39 932.38 L830.76 931.12 L831.14 929.86 L831.51 928.62 L831.89 927.39 L832.26 926.16 L832.64 924.95 L833.01 923.75 L833.38 922.55 L833.76 921.37 L834.13 920.20 L834.51 919.04 L834.88 917.88 L835.26 916.74 L835.63 915.60 L836.00 914.48 L836.38 913.36 L836.75 912.26 L837.13 911.16 L837.50 910.07 L837.88 908.99 L838.25 907.92 L838.62 906.86 L839.00 905.81 L839.37 904.76 L839.75 903.73 L840.12 902.70 L840.50 901.68 L840.87 900.67 L841.24 899.67 L841.62 898.67 L841.99 897.68 L842.37 896.70 L842.74 895.73 L843.12 894.76 L843.49 893.81 L843.86 892.86 L844.24 891.91 L844.61 890.98 L844.99 890.05 L845.36 889.13 L845.74 888.22 L846.11 887.31 L846.48 886.41 L846.86 885.52 L847.23 884.64 L847.61 883.76 L847.98 882.89 L848.36 882.03 L848.73 881.17 L849.11 880.33 L849.48 879.48 L849.85 878.65 L850.23 877.82 L850.60 877.00 L850.98 876.19 L851.35 875.38 L851.73 874.58 L852.10 873.78 L852.47 873.00 L852.85 872.21 L853.22 871.44 L853.60 870.67 L853.97 869.91 L854.35 869.16 L854.72 868.41 L855.09 867.67 L855.47 866.93 L855.84 866.20 L856.22 865.48 L856.59 864.76 L856.97 864.05 L857.34 863.34 L857.71 862.64 L858.09 861.95 L858.46 861.26 L858.84 860.58 L859.21 859.91 L859.59 859.24 L859.96 858.58 L860.33 857.92 L860.71 857.27 L861.08 856.62 L861.46 855.98 L861.83 855.35 L862.21 854.72 L862.58 854.09 L862.95 853.48 L863.33 852.86 L863.70 852.26 L864.08 851.65 L864.45 851.06 L864.83 850.47 L865.20 849.88 L865.57 849.30 L865.95 848.72 L866.32 848.15 L866.70 847.59 L867.07 847.03 L867.45 846.47 L867.82 845.92 L868.19 845.38 L868.57 844.84 L868.94 844.30 L869.32 843.77 L869.69 843.25 L870.07 842.72 L870.44 842.21 L870.81 841.70 L871.19 841.19 L871.56 840.69 L871.94 840.19 L872.31 839.70 L872.69 839.21 L873.06 838.72 L873.43 838.24 L873.81 837.77 L874.18 837.30 L874.56 836.83 L874.93 836.37 L875.31 835.91 L875.68 835.45 L876.05 835.00 L876.43 834.56 L876.80 834.11 L877.18 833.67 L877.55 833.24 L877.93 832.81 L878.30 832.38 L878.67 831.96 L879.05 831.54 L879.42 831.13 L879.80 830.71 L880.17 830.31 L880.55 829.90 L880.92 829.50 L881.29 829.10 L881.67 828.71 L882.04 828.32 L882.42 827.93 L882.79 827.55 L883.17 827.17 L883.54 826.79 L883.91 826.42 L884.29 826.05 L884.66 825.68 L885.04 825.32 L885.41 824.96 L885.79 824.60 L886.16 824.25 L886.54 823.90 L886.91 823.55 L887.28 823.20 L887.66 822.86 L888.03 822.52 L888.41 822.18 L888.78 821.85 L889.16 821.52 L889.53 821.19 L889.90 820.87 L890.28 820.55 L890.65 820.23 L891.03 819.91 L891.40 819.60 L891.78 819.29 L892.15 818.98 L892.52 818.68 L892.90 818.37 L893.27 818.07 L893.65 817.78 L894.02 817.48 L894.40 817.19 L894.77 816.90 L895.14 816.62 L895.52 816.34 L895.89 816.06 L896.27 815.78 L896.64 815.50 L897.02 815.23 L897.39 814.96 L897.76 814.69 L898.14 814.43 L898.51 814.16 L898.89 813.90 L899.26 813.65 L899.64 813.39 L900.01 813.14 L900.38 812.89 L900.76 812.64 L901.13 812.40 L901.51 812.15 L901.88 811.91 L902.26 811.67 L902.63 811.44 L903.00 811.21 L903.38 810.97 L903.75 810.74 L904.13 810.52 L904.50 810.29 L904.88 810.07 L905.25 809.85 L905.62 809.63 L906.00 809.42 L906.37 809.20 L906.75 808.99 L907.12 808.78 L907.50 808.58 L907.87 808.37 L908.24 808.17 L908.62 807.97 L908.99 807.77 L909.37 807.57 L909.74 807.38 L910.12 807.18 L910.49 806.99 L910.86 806.80 L911.24 806.62 L911.61 806.43 L911.99 806.25 L912.36 806.07 L912.74 805.89 L913.11 805.71 L913.48 805.53 L913.86 805.36 L914.23 805.19 L914.61 805.02 L914.98 804.85 L915.36 804.68 L915.73 804.52 L916.10 804.35 L916.48 804.19 L916.85 804.03 L917.23 803.87 L917.60 803.72 L917.98 803.56 L918.35 803.41 L918.72 803.26 L919.10 803.11 L919.47 802.96 L919.85 802.81 L920.22 802.66 L920.60 802.52 L920.97 802.38 L921.34 802.24 L921.72 802.10 L922.09 801.96 L922.47 801.82 L922.84 801.69 L923.22 801.55 L923.59 801.42 L923.97 801.29 L924.34 801.16 L924.71 801.03 L925.09 800.90 L925.46 800.78 L925.84 800.65 L926.21 800.53 L926.59 800.41 L926.96 800.28 L927.33 800.16 L927.71 800.05 L928.08 799.93 L928.46 799.81 L928.83 799.70 L929.21 799.58 L929.58 799.47 L929.95 799.36 L930.33 799.25 L930.70 799.14 L931.08 799.03 L931.45 798.92 L931.83 798.81 L932.20 798.71 L932.57 798.60 L932.95 798.50 L933.32 798.40 L933.70 798.29 L934.07 798.19 L934.45 798.09 L934.82 797.99 L935.19 797.90 L935.57 797.80 L935.94 797.70 L936.32 797.61 L936.69 797.51 L937.07 797.42 L937.44 797.32 L937.81 797.23 L938.19 797.14 L938.56 797.04 L938.94 796.95 L939.31 796.86 L939.69 796.77 L940.06 796.68 L940.43 796.60 L940.81 796.51 L941.18 796.42 L941.56 796.33 L941.93 796.25 L942.31 796.16 L942.68 796.08 L943.05 795.99 L943.43 795.91 L943.80 795.82 L944.18 795.74 L944.55 795.66 L944.93 795.58 L945.30 795.49 L945.67 795.41 L946.05 795.33 L946.42 795.25 L946.80 795.17 L947.17 795.09 L947.55 795.01 L947.92 794.93 L948.29 794.85 L948.67 794.77 L949.04 794.69 L949.42 794.62 L949.79 794.54 L950.17 794.46 L950.54 794.38 L950.91 794.31 L951.29 794.23 L951.66 794.15 L952.04 794.08 L952.41 794.00 L952.79 793.93 L953.16 793.86 L953.53 793.78 L953.91 793.71 L954.28 793.63 L954.66 793.56 L955.03 793.49 L955.41 793.42 L955.78 793.34 L956.15 793.27 L956.53 793.20 L956.90 793.13 L957.28 793.06 L957.65 792.99 L958.03 792.92 L958.40 792.85 L958.77 792.78 L959.15 792.71 L959.52 792.65 L959.90 792.58 L960.27 792.51 L960.65 792.44 L961.02 792.38 L961.39 792.31 L961.77 792.24 L962.14 792.18 L962.52 792.11 L962.89 792.05 L963.27 791.98 L963.64 791.92 L964.02 791.85 L964.39 791.79 L964.76 791.73 L965.14 791.66 L965.51 791.60 L965.89 791.54 L966.26 791.48 L966.64 791.42 L967.01 791.35 L967.38 791.29 L967.76 791.23 L968.13 791.17 L968.51 791.11 L968.88 791.05 L969.26 791.00 L969.63 790.94 L970.00 790.88 L970.38 790.82 L970.75 790.76 L971.13 790.70 L971.50 790.65 L971.88 790.59 L972.25 790.53 L972.62 790.48 L973.00 790.42 L973.37 790.37 L973.75 790.31 L974.12 790.26 L974.50 790.20 L974.87 790.15 L975.24 790.10 L975.62 790.04 L975.99 789.99 L976.37 789.94 L976.74 789.89 L977.12 789.83 L977.49 789.78 L977.86 789.73 L978.24 789.68 L978.61 789.63 L978.99 789.58 L979.36 789.53 L979.74 789.48 L980.11 789.43 L983.85 788.96 L987.60 788.52 L991.34 788.11 L995.08 787.74 L998.83 787.40 L1002.57 787.09 L1006.31 786.81 L1010.05 786.56 L1013.80 786.35 L1017.54 786.16 L1021.28 786.01 L1025.03 785.88 L1028.77 785.79 L1032.51 785.72 L1036.26 785.69 L1040.00 785.68 L1043.74 785.70 L1047.48 785.75 L1051.23 785.73 L1054.97 785.52 L1058.71 785.50 L1062.46 785.48 L1066.20 785.46 L1069.94 785.45 L1073.68 785.43 L1077.43 785.42 L1081.17 785.41 L1084.91 785.41 L1088.66 785.40 L1092.40 785.40 L1096.14 785.40 L1099.89 785.40 L1103.63 785.40 L1107.37 785.40 L1111.12 785.40 L1114.86 785.40 L1118.60 785.40 L1122.34 785.40 L1126.09 785.40 L1129.83 785.40 L1133.57 785.40 L1137.32 785.40 L1141.06 785.40 L1144.80 785.40 L1148.55 785.40 L1152.29 785.40 L1156.03 785.40 L1159.77 785.40 L1163.52 785.40 L1167.26 785.40 L1171.00 785.40 L1174.75 785.40 L1178.49 785.40 L1182.23 785.40 L1185.97 785.40 L1189.72 785.40 L1193.46 785.40 L1197.20 785.40 L1200.95 785.40 L1204.69 785.40 L1208.43 785.40 L1212.18 785.40 L1215.92 785.40 L1219.66 785.40 L1223.40 785.40 L1227.15 785.40 L1230.89 785.40 L1234.63 785.40 L1238.38 785.40 L1242.12 785.40 L1245.86 785.40 L1249.61 785.40 L1253.35 785.40 L1257.09 785.40 L1260.84 785.40 L1264.58 785.40 L1268.32 785.40 L1272.06 785.40 L1275.81 785.40 L1279.55 785.40 L1283.29 785.40 L1287.04 785.40 L1290.78 785.40 L1294.52 785.40 L1298.27 785.40 L1302.01 785.40 L1305.75 785.40 L1309.49 785.40 L1313.24 785.40 L1316.98 785.40 L1320.72 785.40 L1324.47 785.40 L1328.21 785.40 L1331.95 785.40 L1335.70 785.40 L1339.44 785.40 L1343.18 785.40 L1346.92 785.40 L1350.67 785.40 L1354.41 785.40 L1358.15 785.40 L1361.90 785.40 L1365.64 785.40 L1369.38 785.40 L1373.12 785.40 L1376.87 785.40 L1380.61 785.40 L1384.35 785.40 L1388.10 785.40 L1391.84 785.40 L1395.58 785.40 L1399.33 785.40 L1403.07 785.40 L1406.81 785.40 L1410.56 785.40 L1414.30 785.40 L1418.04 785.40 L1421.78 785.40 L1425.53 785.40 L1429.27 785.40 L1433.01 785.40 L1436.76 785.40 L1440.50 785.40 L1444.24 785.40 L1447.99 785.40 L1451.73 785.40 L1455.47 785.40 L1459.21 785.40 L1462.96 785.40 L1466.70 785.40 L1470.44 785.40 L1474.19 785.40 L1477.93 785.40 L1481.67 785.40 L1485.41 785.40 L1489.16 785.40 L1492.90 785.40 L1496.64 785.40 L1500.39 785.40 L1504.13 785.40 L1507.87 785.40 L1511.62 785.40" stroke="#0000ff"/><path d="M748.04 1474.05 L748.42 1473.00 L748.79 1471.94 L749.17 1470.85 L749.54 1469.75 L749.92 1468.62 L750.29 1467.47 L750.66 1466.31 L751.04 1465.12 L751.41 1463.91 L751.79 1462.67 L752.16 1461.42 L752.54 1460.14 L752.91 1458.83 L753.28 1457.50 L753.66 1456.15 L754.03 1454.77 L754.41 1453.37 L754.78 1451.94 L755.16 1450.48 L755.53 1448.98 L755.90 1447.45 L756.28 1445.88 L756.65 1444.27 L757.03 1442.63 L757.40 1440.95 L757.78 1439.24 L758.15 1437.50 L758.52 1435.72 L758.90 1433.91 L759.27 1432.07 L759.65 1430.20 L760.02 1428.30 L760.40 1426.38 L760.77 1424.43 L761.14 1422.45 L761.52 1420.44 L761.89 1418.41 L762.27 1416.36 L762.64 1414.28 L763.02 1412.18 L763.39 1410.06 L763.76 1407.92 L764.14 1405.76 L764.51 1403.59 L764.89 1401.39 L765.26 1399.18 L765.64 1396.95 L766.01 1394.71 L766.38 1392.45 L766.76 1390.18 L767.13 1387.90 L767.51 1385.61 L767.88 1383.30 L768.26 1380.99 L768.63 1378.66 L769.00 1376.33 L769.38 1374.00 L769.75 1371.65 L770.13 1369.30 L770.50 1366.95 L770.88 1364.59 L771.25 1362.23 L771.62 1359.86 L772.00 1357.50 L772.37 1355.13 L772.75 1352.77 L773.12 1350.41 L773.50 1348.05 L773.87 1345.69 L774.25 1343.34 L774.62 1340.99 L774.99 1338.65 L775.37 1336.32 L775.74 1333.99 L776.12 1331.67 L776.49 1329.33 L776.87 1326.97 L777.24 1324.59 L777.61 1322.19 L777.99 1319.77 L778.36 1317.33 L778.74 1314.87 L779.11 1312.40 L779.49 1309.91 L779.86 1307.41 L780.23 1304.89 L780.61 1302.37 L780.98 1299.83 L781.36 1297.28 L781.73 1294.72 L782.11 1292.15 L782.48 1289.58 L782.85 1286.99 L783.23 1284.41 L783.60 1281.82 L783.98 1279.22 L784.35 1276.62 L784.73 1274.02 L785.10 1271.42 L785.47 1268.82 L785.85 1266.22 L786.22 1263.63 L786.60 1261.03 L786.97 1258.44 L787.35 1255.86 L787.72 1253.28 L788.09 1250.71 L788.47 1248.14 L788.84 1245.59 L789.22 1243.04 L789.59 1240.51 L789.97 1237.99 L790.34 1235.48 L790.71 1232.97 L791.09 1230.47 L791.46 1227.96 L791.84 1225.45 L792.21 1222.94 L792.59 1220.42 L792.96 1217.90 L793.33 1215.38 L793.71 1212.86 L794.08 1210.34 L794.46 1207.82 L794.83 1205.30 L795.21 1202.78 L795.58 1200.26 L795.95 1197.73 L796.33 1195.21 L796.70 1192.70 L797.08 1190.18 L797.45 1187.66 L797.83 1185.15 L798.20 1182.64 L798.57 1180.13 L798.95 1177.63 L799.32 1175.13 L799.70 1172.63 L800.07 1170.14 L800.45 1167.65 L800.82 1165.17 L801.19 1162.70 L801.57 1160.22 L801.94 1157.76 L802.32 1155.30 L802.69 1152.85 L803.07 1150.40 L803.44 1147.96 L803.81 1145.53 L804.19 1143.11 L804.56 1140.69 L804.94 1138.28 L805.31 1135.88 L805.69 1133.50 L806.06 1131.12 L806.43 1128.75 L806.81 1126.39 L807.18 1124.04 L807.56 1121.70 L807.93 1119.37 L808.31 1117.08 L808.68 1114.83 L809.05 1112.63 L809.43 1110.46 L809.80 1108.31 L810.18 1106.19 L810.55 1104.09 L810.93 1101.99 L811.30 1099.91 L811.68 1097.83 L812.05 1095.74 L812.42 1093.65 L812.80 1091.56 L813.17 1089.45 L813.55 1087.33 L813.92 1085.09 L814.30 1082.84 L814.67 1080.57 L815.04 1078.31 L815.42 1076.03 L815.79 1073.76 L816.17 1071.47 L816.54 1069.19 L816.92 1066.90 L817.29 1064.61 L817.66 1062.32 L818.04 1060.03 L818.41 1057.74 L818.79 1055.45 L819.16 1053.16 L819.54 1050.87 L819.91 1048.59 L820.28 1046.32 L820.66 1044.05 L821.03 1041.78 L821.41 1039.53 L821.78 1037.28 L822.16 1035.04 L822.53 1032.81 L822.90 1030.59 L823.28 1028.38 L823.65 1026.18 L824.03 1024.00 L824.40 1021.83 L824.78 1019.67 L825.15 1017.53 L825.52 1015.40 L825.90 1013.29 L826.27 1011.20 L826.65 1009.13 L827.02 1007.08 L827.40 1005.05 L827.77 1003.04 L828.14 1001.05 L828.52 999.08 L828.89 997.13 L829.27 995.21 L829.64 993.32 L830.02 991.45 L830.39 989.61 L830.76 987.79 L831.14 986.01 L831.51 984.24 L831.89 982.50 L832.26 980.79 L832.64 979.09 L833.01 977.42 L833.38 975.76 L833.76 974.13 L834.13 972.51 L834.51 970.91 L834.88 969.32 L835.26 967.75 L835.63 966.19 L836.00 964.64 L836.38 963.11 L836.75 961.58 L837.13 960.06 L837.50 958.55 L837.88 957.05 L838.25 955.55 L838.62 954.05 L839.00 952.56 L839.37 951.07 L839.75 949.58 L840.12 948.09 L840.50 946.60 L840.87 945.10 L841.24 943.60 L841.62 942.10 L841.99 940.59 L842.37 939.08 L842.74 937.56 L843.12 936.03 L843.49 934.50 L843.86 932.96 L844.24 931.42 L844.61 929.88 L844.99 928.33 L845.36 926.78 L845.74 925.24 L846.11 923.69 L846.48 922.14 L846.86 920.59 L847.23 919.05 L847.61 917.50 L847.98 915.97 L848.36 914.43 L848.73 912.90 L849.11 911.37 L849.48 909.85 L849.85 908.34 L850.23 906.83 L850.60 905.34 L850.98 903.85 L851.35 902.37 L851.73 900.89 L852.10 899.44 L852.47 897.99 L852.85 896.55 L853.22 895.12 L853.60 893.71 L853.97 892.30 L854.35 890.91 L854.72 889.52 L855.09 888.15 L855.47 886.78 L855.84 885.43 L856.22 884.09 L856.59 882.76 L856.97 881.43 L857.34 880.12 L857.71 878.82 L858.09 877.52 L858.46 876.24 L858.84 874.96 L859.21 873.70 L859.59 872.44 L859.96 871.19 L860.33 869.96 L860.71 868.73 L861.08 867.51 L861.46 866.30 L861.83 865.09 L862.21 863.90 L862.58 862.71 L862.95 861.54 L863.33 860.37 L863.70 859.21 L864.08 858.06 L864.45 856.91 L864.83 855.78 L865.20 854.65 L865.57 853.53 L865.95 852.41 L866.32 851.31 L866.70 850.21 L867.07 849.12 L867.45 848.04 L867.82 846.96 L868.19 845.89 L868.57 844.83 L868.94 843.77 L869.32 842.72 L869.69 841.68 L870.07 840.65 L870.44 839.62 L870.81 838.60 L871.19 837.58 L871.56 836.57 L871.94 835.57 L872.31 834.57 L872.69 833.58 L873.06 832.59 L873.43 831.61 L873.81 830.64 L874.18 829.67 L874.56 828.71 L874.93 827.75 L875.31 826.80 L875.68 825.85 L876.05 824.91 L876.43 823.97 L876.80 823.04 L877.18 822.11 L877.55 821.18 L877.93 820.27 L878.30 819.35 L878.67 818.44 L879.05 817.54 L879.42 816.64 L879.80 815.74 L880.17 814.85 L880.55 813.96 L880.92 813.08 L881.29 812.20 L881.67 811.33 L882.04 810.46 L882.42 809.60 L882.79 808.74 L883.17 807.88 L883.54 807.03 L883.91 806.18 L884.29 805.34 L884.66 804.50 L885.04 803.67 L885.41 802.84 L885.79 802.01 L886.16 801.19 L886.54 800.37 L886.91 799.56 L887.28 798.75 L887.66 797.94 L888.03 797.14 L888.41 796.35 L888.78 795.55 L889.16 794.77 L889.53 793.98 L889.90 793.20 L890.28 792.43 L890.65 791.65 L891.03 790.89 L891.40 790.12 L891.78 789.36 L892.15 788.61 L892.52 787.85 L892.90 787.11 L893.27 786.36 L893.65 785.62 L894.02 784.88 L894.40 784.15 L894.77 783.42 L895.14 782.70 L895.52 781.98 L895.89 781.26 L896.27 780.55 L896.64 779.84 L897.02 779.13 L897.39 778.43 L897.76 777.73 L898.14 777.03 L898.51 776.34 L898.89 775.66 L899.26 774.97 L899.64 774.29 L900.01 773.62 L900.38 772.94 L900.76 772.27 L901.13 771.61 L901.51 770.95 L901.88 770.29 L902.26 769.63 L902.63 768.98 L903.00 768.33 L903.38 767.69 L903.75 767.05 L904.13 766.41 L904.50 765.77 L904.88 765.14 L905.25 764.51 L905.62 763.89 L906.00 763.27 L906.37 762.65 L906.75 762.04 L907.12 761.43 L907.50 760.82 L907.87 760.21 L908.24 759.61 L908.62 759.01 L908.99 758.42 L909.37 757.83 L909.74 757.24 L910.12 756.65 L910.49 756.07 L910.86 755.49 L911.24 754.92 L911.61 754.35 L911.99 753.78 L912.36 753.21 L912.74 752.65 L913.11 752.09 L913.48 751.53 L913.86 750.97 L914.23 750.42 L914.61 749.87 L914.98 749.33 L915.36 748.79 L915.73 748.25 L916.10 747.71 L916.48 747.18 L916.85 746.64 L917.23 746.12 L917.60 745.59 L917.98 745.07 L918.35 744.55 L918.72 744.03 L919.10 743.52 L919.47 743.01 L919.85 742.50 L920.22 741.99 L920.60 741.49 L920.97 740.99 L921.34 740.49 L921.72 740.00 L922.09 739.50 L922.47 739.01 L922.84 738.53 L923.22 738.04 L923.59 737.56 L923.97 737.08 L924.34 736.60 L924.71 736.13 L925.09 735.66 L925.46 735.19 L925.84 734.72 L926.21 734.25 L926.59 733.79 L926.96 733.33 L927.33 732.88 L927.71 732.42 L928.08 731.97 L928.46 731.52 L928.83 731.07 L929.21 730.63 L929.58 730.19 L929.95 729.75 L930.33 729.31 L930.70 728.87 L931.08 728.44 L931.45 728.01 L931.83 727.58 L932.20 727.16 L932.57 726.74 L932.95 726.32 L933.32 725.90 L933.70 725.48 L934.07 725.07 L934.45 724.66 L934.82 724.25 L935.19 723.84 L935.57 723.44 L935.94 723.04 L936.32 722.64 L936.69 722.24 L937.07 721.85 L937.44 721.46 L937.81 721.07 L938.19 720.68 L938.56 720.29 L938.94 719.91 L939.31 719.53 L939.69 719.15 L940.06 718.78 L940.43 718.40 L940.81 718.03 L941.18 717.66 L941.56 717.30 L941.93 716.93 L942.31 716.57 L942.68 716.21 L943.05 715.85 L943.43 715.50 L943.80 715.15 L944.18 714.79 L944.55 714.45 L944.93 714.10 L945.30 713.76 L945.67 713.41 L946.05 713.07 L946.42 712.74 L946.80 712.40 L947.17 712.07 L947.55 711.74 L947.92 711.41 L948.29 711.08 L948.67 710.76 L949.04 710.43 L949.42 710.11 L949.79 709.80 L950.17 709.48 L950.54 709.17 L950.91 708.86 L951.29 708.55 L951.66 708.24 L952.04 707.93 L952.41 707.63 L952.79 707.33 L953.16 707.03 L953.53 706.74 L953.91 706.44 L954.28 706.15 L954.66 705.86 L955.03 705.57 L955.41 705.28 L955.78 705.00 L956.15 704.72 L956.53 704.44 L956.90 704.16 L957.28 703.88 L957.65 703.61 L958.03 703.34 L958.40 703.07 L958.77 702.80 L959.15 702.53 L959.52 702.27 L959.90 702.01 L960.27 701.75 L960.65 701.49 L961.02 701.24 L961.39 700.98 L961.77 700.73 L962.14 700.48 L962.52 700.23 L962.89 699.99 L963.27 699.74 L963.64 699.50 L964.02 699.26 L964.39 699.02 L964.76 698.79 L965.14 698.55 L965.51 698.32 L965.89 698.09 L966.26 697.86 L966.64 697.63 L967.01 697.41 L967.38 697.19 L967.76 696.97 L968.13 696.75 L968.51 696.53 L968.88 696.32 L969.26 696.10 L969.63 695.89 L970.00 695.68 L970.38 695.47 L970.75 695.27 L971.13 695.06 L971.50 694.86 L971.88 694.66 L972.25 694.46 L972.62 694.27 L973.00 694.07 L973.37 693.88 L973.75 693.69 L974.12 693.50 L974.50 693.31 L974.87 693.12 L975.24 692.94 L975.62 692.76 L975.99 692.58 L976.37 692.40 L976.74 692.22 L977.12 692.05 L977.49 691.87 L977.86 691.70 L978.24 691.53 L978.61 691.36 L978.99 691.20 L979.36 691.03 L979.74 690.87 L980.11 690.71 L983.85 689.19 L987.60 687.83 L991.34 686.64 L995.08 685.59 L998.83 684.70 L1002.57 683.95 L1006.31 683.34 L1010.05 682.86 L1013.80 682.51 L1017.54 682.28 L1021.28 682.17 L1025.03 682.17 L1028.77 682.27 L1032.51 682.47 L1036.26 682.77 L1040.00 683.15 L1043.74 683.62 L1047.48 684.16 L1051.23 684.78 L1054.97 685.47 L1058.71 686.21 L1062.46 687.01 L1066.20 687.86 L1069.94 688.76 L1073.68 689.71 L1077.43 690.70 L1081.17 691.72 L1084.91 692.78 L1088.66 693.87 L1092.40 694.99 L1096.14 696.14 L1099.89 697.31 L1103.63 698.50 L1107.37 699.71 L1111.12 700.92 L1114.86 702.16 L1118.60 703.39 L1122.34 704.63 L1126.09 705.88 L1129.83 707.12 L1133.57 708.35 L1137.32 709.58 L1141.06 710.80 L1144.80 712.00 L1148.55 713.18 L1152.29 714.34 L1156.03 715.48 L1159.77 716.60 L1163.52 717.68 L1167.26 718.73 L1171.00 719.74 L1174.75 720.72 L1178.49 721.65 L1182.23 722.53 L1185.97 723.37 L1189.72 724.16 L1193.46 724.89 L1197.20 725.56 L1200.95 726.17 L1204.69 726.72 L1208.43 727.20 L1212.18 727.61 L1215.92 727.95 L1219.66 728.21 L1223.40 728.39 L1227.15 728.48 L1230.89 728.50 L1234.63 728.42 L1238.38 728.25 L1242.12 727.98 L1245.86 727.62 L1249.61 727.15 L1253.35 726.58 L1257.09 725.91 L1260.84 725.12 L1264.58 724.22 L1268.32 723.20 L1272.06 722.06 L1275.81 720.87 L1279.55 720.15 L1283.29 719.24 L1287.04 718.28 L1290.78 717.26 L1294.52 716.21 L1298.27 715.14 L1302.01 714.07 L1305.75 712.99 L1309.49 711.93 L1313.24 710.90 L1316.98 709.92 L1320.72 708.98 L1324.47 708.12 L1328.21 707.33 L1331.95 706.55 L1335.70 705.76 L1339.44 704.98 L1343.18 704.21 L1346.92 703.46 L1350.67 702.74 L1354.41 702.06 L1358.15 701.42 L1361.90 700.85 L1365.64 700.34 L1369.38 699.90 L1373.12 699.55 L1376.87 699.29 L1380.61 699.07 L1384.35 698.85 L1388.10 698.65 L1391.84 698.46 L1395.58 698.29 L1399.33 698.14 L1403.07 698.01 L1406.81 697.91 L1410.56 697.84 L1414.30 697.80 L1418.04 697.80 L1421.78 697.84 L1425.53 697.93 L1429.27 698.05 L1433.01 698.20 L1436.76 698.38 L1440.50 698.57 L1444.24 698.79 L1447.99 699.02 L1451.73 699.25 L1455.47 699.48 L1459.21 699.72 L1462.96 699.99 L1466.70 700.31 L1470.44 700.67 L1474.19 701.06 L1477.93 701.46 L1481.67 701.88 L1485.41 702.31 L1489.16 702.74 L1492.90 703.16 L1496.64 703.57 L1500.39 703.96 L1504.13 704.33 L1507.87 704.70 L1511.62 705.10" stroke="#f03c3c"/><path d="M748.04 2090.24 L748.42 2091.30 L748.79 2092.25 L749.17 2093.09 L749.54 2093.82 L749.92 2094.43 L750.29 2094.92 L750.66 2095.28 L751.04 2095.50 L751.41 2095.59 L751.79 2095.28 L752.16 2094.23 L752.54 2092.51 L752.91 2090.18 L753.28 2087.29 L753.66 2083.91 L754.03 2080.09 L754.41 2075.91 L754.78 2071.40 L755.16 2066.65 L755.53 2061.70 L755.90 2056.62 L756.28 2051.47 L756.65 2046.31 L757.03 2041.20 L757.40 2036.20 L757.78 2031.36 L758.15 2026.53 L758.52 2021.50 L758.90 2016.28 L759.27 2010.87 L759.65 2005.28 L760.02 1999.52 L760.40 1993.60 L760.77 1987.52 L761.14 1981.30 L761.52 1974.94 L761.89 1968.44 L762.27 1961.82 L762.64 1955.08 L763.02 1948.24 L763.39 1941.29 L763.76 1934.24 L764.14 1927.12 L764.51 1919.91 L764.89 1912.63 L765.26 1905.29 L765.64 1897.89 L766.01 1890.44 L766.38 1882.95 L766.76 1875.43 L767.13 1867.89 L767.51 1860.33 L767.88 1852.75 L768.26 1845.18 L768.63 1837.61 L769.00 1830.05 L769.38 1822.51 L769.75 1815.00 L770.13 1807.53 L770.50 1800.05 L770.88 1792.45 L771.25 1784.72 L771.62 1776.88 L772.00 1768.92 L772.37 1760.86 L772.75 1752.69 L773.12 1744.44 L773.50 1736.11 L773.87 1727.70 L774.25 1719.22 L774.62 1710.68 L774.99 1702.08 L775.37 1693.44 L775.74 1684.76 L776.12 1676.04 L776.49 1667.30 L776.87 1658.54 L777.24 1649.77 L777.61 1640.99 L777.99 1632.22 L778.36 1623.46 L778.74 1614.71 L779.11 1605.99 L779.49 1597.30 L779.86 1588.65 L780.23 1580.05 L780.61 1571.50 L780.98 1563.01 L781.36 1554.59 L781.73 1546.24 L782.11 1537.97 L782.48 1529.80 L782.85 1521.72 L783.23 1513.74 L783.60 1505.87 L783.98 1498.13 L784.35 1490.50 L784.73 1483.01 L785.10 1475.66 L785.47 1468.46 L785.85 1461.42 L786.22 1454.54 L786.60 1447.80 L786.97 1441.18 L787.35 1434.68 L787.72 1428.29 L788.09 1421.98 L788.47 1415.74 L788.84 1409.57 L789.22 1403.44 L789.59 1397.35 L789.97 1391.28 L790.34 1385.22 L790.71 1379.16 L791.09 1373.07 L791.46 1366.95 L791.84 1360.79 L792.21 1354.56 L792.59 1348.27 L792.96 1341.89 L793.33 1335.40 L793.71 1328.81 L794.08 1322.09 L794.46 1315.23 L794.83 1308.22 L795.21 1301.04 L795.58 1293.68 L795.95 1286.14 L796.33 1278.44 L796.70 1270.57 L797.08 1262.57 L797.45 1254.43 L797.83 1246.17 L798.20 1237.80 L798.57 1229.33 L798.95 1220.78 L799.32 1212.16 L799.70 1203.47 L800.07 1194.74 L800.45 1185.96 L800.82 1177.16 L801.19 1168.34 L801.57 1159.52 L801.94 1150.71 L802.32 1141.92 L802.69 1133.16 L803.07 1124.45 L803.44 1115.79 L803.81 1107.20 L804.19 1098.69 L804.56 1090.27 L804.94 1081.95 L805.31 1073.74 L805.69 1065.66 L806.06 1057.72 L806.43 1049.93 L806.81 1042.30 L807.18 1034.78 L807.56 1027.31 L807.93 1019.91 L808.31 1012.57 L808.68 1005.31 L809.05 998.13 L809.43 991.04 L809.80 984.05 L810.18 977.17 L810.55 970.40 L810.93 963.75 L811.30 957.23 L811.68 950.84 L812.05 944.54 L812.42 938.28 L812.80 932.06 L813.17 925.89 L813.55 919.80 L813.92 913.79 L814.30 907.88 L814.67 902.07 L815.04 896.37 L815.42 890.80 L815.79 885.38 L816.17 880.10 L816.54 874.99 L816.92 870.05 L817.29 865.30 L817.66 860.74 L818.04 856.37 L818.41 852.15 L818.79 848.07 L819.16 844.10 L819.54 840.23 L819.91 836.42 L820.28 832.65 L820.66 828.90 L821.03 825.15 L821.41 821.37 L821.78 817.54 L822.16 813.70 L822.53 809.91 L822.90 806.23 L823.28 802.73 L823.65 799.47 L824.03 796.32 L824.40 793.21 L824.78 790.17 L825.15 787.26 L825.52 784.52 L825.90 782.00 L826.27 779.73 L826.65 777.77 L827.02 776.01 L827.40 774.37 L827.77 772.84 L828.14 771.41 L828.52 770.06 L828.89 768.80 L829.27 767.60 L829.64 766.46 L830.02 765.38 L830.39 764.33 L830.76 763.30 L831.14 762.25 L831.51 761.22 L831.89 760.23 L832.26 759.28 L832.64 758.42 L833.01 757.64 L833.38 756.98 L833.76 756.45 L834.13 756.08 L834.51 755.79 L834.88 755.50 L835.26 755.23 L835.63 754.97 L836.00 754.72 L836.38 754.49 L836.75 754.28 L837.13 754.08 L837.50 753.91 L837.88 753.75 L838.25 753.62 L838.62 753.50 L839.00 753.41 L839.37 753.35 L839.75 753.30 L840.12 753.29 L840.50 753.32 L840.87 753.41 L841.24 753.56 L841.62 753.77 L841.99 754.02 L842.37 754.32 L842.74 754.65 L843.12 755.01 L843.49 755.40 L843.86 755.81 L844.24 756.23 L844.61 756.66 L844.99 757.10 L845.36 757.52 L845.74 757.94 L846.11 758.35 L846.48 758.74 L846.86 759.15 L847.23 759.57 L847.61 760.01 L847.98 760.46 L848.36 760.93 L848.73 761.42 L849.11 761.93 L849.48 762.45 L849.85 763.00 L850.23 763.56 L850.60 764.15 L850.98 764.76 L851.35 765.37 L851.73 765.99 L852.10 766.67 L852.47 767.40 L852.85 768.21 L853.22 769.13 L853.60 770.16 L853.97 771.41 L854.35 773.06 L854.72 775.04 L855.09 777.26 L855.47 779.64 L855.84 782.08 L856.22 785.06 L856.59 788.93 L856.97 792.46 L857.34 794.33 L857.71 794.30 L858.09 793.96 L858.46 793.43 L858.84 792.76 L859.21 792.01 L859.59 791.25 L859.96 790.54 L860.33 789.93 L860.71 789.49 L861.08 789.27 L861.46 789.28 L861.83 789.42 L862.21 789.65 L862.58 789.97 L862.95 790.36 L863.33 790.81 L863.70 791.30 L864.08 791.83 L864.45 792.37 L864.83 792.92 L865.20 793.46 L865.57 793.99 L865.95 794.47 L866.32 794.91 L866.70 795.29 L867.07 795.59 L867.45 795.80 L867.82 795.92 L868.19 795.93 L868.57 795.90 L868.94 795.83 L869.32 795.73 L869.69 795.61 L870.07 795.46 L870.44 795.29 L870.81 795.10 L871.19 794.88 L871.56 794.65 L871.94 794.40 L872.31 794.14 L872.69 793.87 L873.06 793.59 L873.43 793.29 L873.81 793.00 L874.18 792.70 L874.56 792.39 L874.93 792.09 L875.31 791.79 L875.68 791.49 L876.05 791.19 L876.43 790.91 L876.80 790.63 L877.18 790.37 L877.55 790.12 L877.93 789.88 L878.30 789.64 L878.67 789.39 L879.05 789.14 L879.42 788.88 L879.80 788.62 L880.17 788.35 L880.55 788.08 L880.92 787.82 L881.29 787.55 L881.67 787.28 L882.04 787.00 L882.42 786.73 L882.79 786.47 L883.17 786.20 L883.54 785.94 L883.91 785.68 L884.29 785.42 L884.66 785.17 L885.04 784.92 L885.41 784.68 L885.79 784.45 L886.16 784.22 L886.54 784.00 L886.91 783.79 L887.28 783.58 L887.66 783.39 L888.03 783.21 L888.41 783.04 L888.78 782.86 L889.16 782.68 L889.53 782.50 L889.90 782.32 L890.28 782.14 L890.65 781.96 L891.03 781.79 L891.40 781.61 L891.78 781.45 L892.15 781.29 L892.52 781.15 L892.90 781.01 L893.27 780.89 L893.65 780.78 L894.02 780.69 L894.40 780.62 L894.77 780.56 L895.14 780.53 L895.52 780.52 L895.89 780.53 L896.27 780.57 L896.64 780.62 L897.02 780.70 L897.39 780.79 L897.76 780.89 L898.14 781.01 L898.51 781.14 L898.89 781.28 L899.26 781.42 L899.64 781.57 L900.01 781.73 L900.38 781.88 L900.76 782.03 L901.13 782.18 L901.51 782.33 L901.88 782.47 L902.26 782.60 L902.63 782.72 L903.00 782.82 L903.38 782.91 L903.75 782.99 L904.13 783.04 L904.50 783.08 L904.88 783.09 L905.25 783.09 L905.62 783.09 L906.00 783.09 L906.37 783.09 L906.75 783.09 L907.12 783.09 L907.50 783.09 L907.87 783.09 L908.24 783.09 L908.62 783.09 L908.99 783.09 L909.37 783.09 L909.74 783.09 L910.12 783.09 L910.49 783.09 L910.86 783.09 L911.24 783.09 L911.61 783.09 L911.99 783.09 L912.36 783.09 L912.74 783.09 L913.11 783.09 L913.48 783.09 L913.86 783.09 L914.23 783.09 L914.61 783.09 L914.98 783.09 L915.36 783.09 L915.73 783.09 L916.10 783.09 L916.48 783.09 L916.85 783.09 L917.23 783.09 L917.60 783.09 L917.98 783.09 L918.35 783.09 L918.72 783.09 L919.10 783.09 L919.47 783.09 L919.85 783.09 L920.22 783.09 L920.60 783.09 L920.97 783.09 L921.34 783.09 L921.72 783.08 L922.09 783.07 L922.47 783.05 L922.84 783.03 L923.22 783.00 L923.59 782.96 L923.97 782.92 L924.34 782.87 L924.71 782.81 L925.09 782.76 L925.46 782.69 L925.84 782.63 L926.21 782.55 L926.59 782.48 L926.96 782.40 L927.33 782.32 L927.71 782.24 L928.08 782.15 L928.46 782.07 L928.83 781.98 L929.21 781.89 L929.58 781.80 L929.95 781.71 L930.33 781.62 L930.70 781.53 L931.08 781.43 L931.45 781.35 L931.83 781.26 L932.20 781.17 L932.57 781.08 L932.95 781.00 L933.32 780.92 L933.70 780.84 L934.07 780.77 L934.45 780.70 L934.82 780.63 L935.19 780.56 L935.57 780.51 L935.94 780.45 L936.32 780.40 L936.69 780.36 L937.07 780.32 L937.44 780.29 L937.81 780.26 L938.19 780.24 L938.56 780.22 L938.94 780.20 L939.31 780.18 L939.69 780.16 L940.06 780.14 L940.43 780.12 L940.81 780.10 L941.18 780.09 L941.56 780.07 L941.93 780.05 L942.31 780.04 L942.68 780.02 L943.05 780.01 L943.43 779.99 L943.80 779.98 L944.18 779.96 L944.55 779.95 L944.93 779.94 L945.30 779.93 L945.67 779.91 L946.05 779.90 L946.42 779.89 L946.80 779.88 L947.17 779.87 L947.55 779.86 L947.92 779.84 L948.29 779.83 L948.67 779.82 L949.04 779.81 L949.42 779.80 L949.79 779.79 L950.17 779.78 L950.54 779.77 L950.91 779.76 L951.29 779.75 L951.66 779.74 L952.04 779.73 L952.41 779.72 L952.79 779.71 L953.16 779.70 L953.53 779.69 L953.91 779.68 L954.28 779.67 L954.66 779.66 L955.03 779.65 L955.41 779.64 L955.78 779.63 L956.15 779.62 L956.53 779.61 L956.90 779.60 L957.28 779.58 L957.65 779.57 L958.03 779.56 L958.40 779.55 L958.77 779.53 L959.15 779.52 L959.52 779.51 L959.90 779.49 L960.27 779.48 L960.65 779.46 L961.02 779.45 L961.39 779.43 L961.77 779.42 L962.14 779.40 L962.52 779.38 L962.89 779.37 L963.27 779.35 L963.64 779.33 L964.02 779.32 L964.39 779.30 L964.76 779.28 L965.14 779.26 L965.51 779.25 L965.89 779.23 L966.26 779.21 L966.64 779.19 L967.01 779.17 L967.38 779.15 L967.76 779.13 L968.13 779.11 L968.51 779.09 L968.88 779.07 L969.26 779.05 L969.63 779.03 L970.00 779.01 L970.38 778.99 L970.75 778.97 L971.13 778.95 L971.50 778.93 L971.88 778.91 L972.25 778.89 L972.62 778.87 L973.00 778.85 L973.37 778.83 L973.75 778.80 L974.12 778.78 L974.50 778.76 L974.87 778.74 L975.24 778.72 L975.62 778.70 L975.99 778.67 L976.37 778.65 L976.74 778.63 L977.12 778.61 L977.49 778.59 L977.86 778.56 L978.24 778.54 L978.61 778.52 L978.99 778.50 L979.36 778.47 L979.74 778.45 L980.11 778.43 L983.85 778.20 L987.60 777.98 L991.34 777.77 L995.08 777.57 L998.83 777.39 L1002.57 777.23 L1006.31 777.10 L1010.05 777.00 L1013.80 776.94 L1017.54 776.92 L1021.28 776.91 L1025.03 776.90 L1028.77 776.89 L1032.51 776.89 L1036.26 776.88 L1040.00 776.87 L1043.74 776.86 L1047.48 776.85 L1051.23 776.85 L1054.97 776.84 L1058.71 776.83 L1062.46 776.83 L1066.20 776.82 L1069.94 776.81 L1073.68 776.81 L1077.43 776.80 L1081.17 776.79 L1084.91 776.79 L1088.66 776.78 L1092.40 776.78 L1096.14 776.77 L1099.89 776.77 L1103.63 776.76 L1107.37 776.76 L1111.12 776.75 L1114.86 776.75 L1118.60 776.74 L1122.34 776.74 L1126.09 776.74 L1129.83 776.73 L1133.57 776.73 L1137.32 776.72 L1141.06 776.72 L1144.80 776.72 L1148.55 776.71 L1152.29 776.71 L1156.03 776.71 L1159.77 776.71 L1163.52 776.70 L1167.26 776.70 L1171.00 776.70 L1174.75 776.69 L1178.49 776.69 L1182.23 776.69 L1185.97 776.69 L1189.72 776.69 L1193.46 776.68 L1197.20 776.68 L1200.95 776.68 L1204.69 776.68 L1208.43 776.68 L1212.18 776.68 L1215.92 776.68 L1219.66 776.67 L1223.40 776.67 L1227.15 776.67 L1230.89 776.67 L1234.63 776.67 L1238.38 776.67 L1242.12 776.67 L1245.86 776.67 L1249.61 776.67 L1253.35 776.67 L1257.09 776.67 L1260.84 776.67 L1264.58 776.67 L1268.32 776.67 L1272.06 776.67 L1275.81 776.67 L1279.55 776.67 L1283.29 776.67 L1287.04 776.67 L1290.78 776.67 L1294.52 776.67 L1298.27 776.67 L1302.01 776.67 L1305.75 776.67 L1309.49 776.67 L1313.24 776.67 L1316.98 776.67 L1320.72 776.67 L1324.47 776.67 L1328.21 776.67 L1331.95 776.67 L1335.70 776.67 L1339.44 776.67 L1343.18 776.67 L1346.92 776.67 L1350.67 776.67 L1354.41 776.67 L1358.15 776.67 L1361.90 776.67 L1365.64 776.67 L1369.38 776.67 L1373.12 776.67 L1376.87 776.67 L1380.61 776.67 L1384.35 776.67 L1388.10 776.67 L1391.84 776.67 L1395.58 776.67 L1399.33 776.67 L1403.07 776.67 L1406.81 776.67 L1410.56 776.67 L1414.30 776.67 L1418.04 776.67 L1421.78 776.67 L1425.53 776.67 L1429.27 776.67 L1433.01 776.67 L1436.76 776.67 L1440.50 776.67 L1444.24 776.67 L1447.99 776.67 L1451.73 776.67 L1455.47 776.67 L1459.21 776.67 L1462.96 776.67 L1466.70 776.67 L1470.44 776.67 L1474.19 776.67 L1477.93 776.67 L1481.67 776.67 L1485.41 776.67 L1489.16 776.67 L1492.90 776.67 L1496.64 776.67 L1500.39 776.67 L1504.13 776.67 L1507.87 776.67 L1511.62 776.67" stroke="#000000"/><path d="M748.04 1621.63 L748.42 1612.65 L748.79 1603.74 L749.17 1594.89 L749.54 1586.11 L749.92 1577.42 L750.29 1568.81 L750.66 1560.30 L751.04 1551.88 L751.41 1543.56 L751.79 1535.36 L752.16 1527.26 L752.54 1519.29 L752.91 1511.45 L753.28 1503.74 L753.66 1496.17 L754.03 1488.74 L754.41 1481.46 L754.78 1474.34 L755.16 1467.37 L755.53 1460.56 L755.90 1453.88 L756.28 1447.32 L756.65 1440.89 L757.03 1434.56 L757.40 1428.34 L757.78 1422.22 L758.15 1416.19 L758.52 1410.24 L758.90 1404.37 L759.27 1398.57 L759.65 1392.84 L760.02 1387.16 L760.40 1381.53 L760.77 1375.94 L761.14 1370.39 L761.52 1364.87 L761.89 1359.37 L762.27 1353.89 L762.64 1348.41 L763.02 1342.93 L763.39 1337.45 L763.76 1331.96 L764.14 1326.44 L764.51 1320.90 L764.89 1315.33 L765.26 1309.71 L765.64 1304.05 L766.01 1298.34 L766.38 1292.60 L766.76 1286.83 L767.13 1281.04 L767.51 1275.23 L767.88 1269.40 L768.26 1263.55 L768.63 1257.70 L769.00 1251.82 L769.38 1245.94 L769.75 1240.06 L770.13 1234.16 L770.50 1228.27 L770.88 1222.37 L771.25 1216.48 L771.62 1210.59 L772.00 1204.70 L772.37 1198.83 L772.75 1192.96 L773.12 1187.11 L773.50 1181.27 L773.87 1175.45 L774.25 1169.65 L774.62 1163.88 L774.99 1158.12 L775.37 1152.40 L775.74 1146.70 L776.12 1141.04 L776.49 1135.40 L776.87 1129.81 L777.24 1124.25 L777.61 1118.73 L777.99 1113.25 L778.36 1107.82 L778.74 1102.44 L779.11 1097.10 L779.49 1091.82 L779.86 1086.58 L780.23 1081.41 L780.61 1076.29 L780.98 1071.24 L781.36 1066.25 L781.73 1061.32 L782.11 1056.46 L782.48 1051.66 L782.85 1046.95 L783.23 1042.30 L783.60 1037.74 L783.98 1033.28 L784.35 1028.90 L784.73 1024.60 L785.10 1020.38 L785.47 1016.23 L785.85 1012.14 L786.22 1008.10 L786.60 1004.11 L786.97 1000.16 L787.35 996.24 L787.72 992.35 L788.09 988.49 L788.47 984.63 L788.84 980.79 L789.22 976.95 L789.59 972.61 L789.97 968.44 L790.34 964.39 L790.71 960.45 L791.09 956.58 L791.46 952.75 L791.84 948.95 L792.21 945.16 L792.59 941.37 L792.96 937.57 L793.33 933.76 L793.71 929.92 L794.08 926.05 L794.46 922.13 L794.83 918.15 L795.21 913.97 L795.58 909.72 L795.95 905.40 L796.33 901.03 L796.70 896.60 L797.08 892.13 L797.45 887.62 L797.83 883.07 L798.20 878.50 L798.57 873.91 L798.95 869.30 L799.32 864.68 L799.70 860.06 L800.07 855.45 L800.45 850.84 L800.82 846.25 L801.19 841.68 L801.57 837.14 L801.94 832.64 L802.32 828.18 L802.69 823.76 L803.07 819.40 L803.44 815.10 L803.81 810.86 L804.19 806.70 L804.56 802.61 L804.94 798.61 L805.31 794.70 L805.69 790.87 L806.06 787.12 L806.43 783.44 L806.81 779.85 L807.18 776.32 L807.56 772.86 L807.93 769.46 L808.31 766.13 L808.68 762.85 L809.05 759.62 L809.43 756.45 L809.80 753.32 L810.18 750.24 L810.55 747.20 L810.93 744.20 L811.30 741.23 L811.68 738.29 L812.05 735.38 L812.42 732.51 L812.80 729.66 L813.17 726.84 L813.55 724.06 L813.92 721.30 L814.30 718.58 L814.67 715.90 L815.04 713.25 L815.42 710.64 L815.79 708.07 L816.17 705.53 L816.54 703.03 L816.92 700.57 L817.29 698.16 L817.66 695.78 L818.04 693.44 L818.41 691.15 L818.79 688.91 L819.16 686.71 L819.54 684.55 L819.91 682.44 L820.28 680.37 L820.66 678.34 L821.03 676.36 L821.41 674.41 L821.78 672.51 L822.16 670.65 L822.53 668.82 L822.90 667.04 L823.28 665.29 L823.65 663.57 L824.03 661.89 L824.40 660.25 L824.78 658.63 L825.15 657.05 L825.52 655.51 L825.90 653.99 L826.27 652.50 L826.65 651.05 L827.02 649.62 L827.40 648.22 L827.77 646.85 L828.14 645.51 L828.52 644.20 L828.89 642.92 L829.27 641.67 L829.64 640.44 L830.02 639.24 L830.39 638.07 L830.76 636.93 L831.14 635.82 L831.51 634.73 L831.89 633.67 L832.26 632.64 L832.64 631.63 L833.01 630.65 L833.38 629.70 L833.76 628.77 L834.13 627.87 L834.51 627.00 L834.88 626.15 L835.26 625.33 L835.63 624.53 L836.00 623.75 L836.38 623.01 L836.75 622.28 L837.13 621.58 L837.50 620.91 L837.88 620.26 L838.25 619.63 L838.62 619.03 L839.00 618.45 L839.37 617.90 L839.75 617.37 L840.12 616.86 L840.50 616.37 L840.87 615.91 L841.24 615.47 L841.62 615.05 L841.99 614.66 L842.37 614.28 L842.74 613.93 L843.12 613.60 L843.49 613.29 L843.86 613.00 L844.24 612.74 L844.61 612.49 L844.99 612.26 L845.36 612.06 L845.74 611.88 L846.11 611.71 L846.48 611.57 L846.86 611.44 L847.23 611.34 L847.61 611.25 L847.98 611.19 L848.36 611.14 L848.73 611.11 L849.11 611.10 L849.48 611.11 L849.85 611.14 L850.23 611.18 L850.60 611.25 L850.98 611.33 L851.35 611.43 L851.73 611.54 L852.10 611.67 L852.47 611.82 L852.85 611.99 L853.22 612.17 L853.60 612.37 L853.97 612.59 L854.35 612.82 L854.72 613.07 L855.09 613.33 L855.47 613.61 L855.84 613.91 L856.22 614.22 L856.59 614.54 L856.97 614.88 L857.34 615.24 L857.71 615.60 L858.09 615.99 L858.46 616.38 L858.84 616.79 L859.21 617.22 L859.59 617.65 L859.96 618.10 L860.33 618.57 L860.71 619.04 L861.08 619.53 L861.46 620.03 L861.83 620.54 L862.21 621.07 L862.58 621.61 L862.95 622.15 L863.33 622.71 L863.70 623.29 L864.08 623.87 L864.45 624.46 L864.83 625.06 L865.20 625.68 L865.57 626.30 L865.95 626.94 L866.32 627.58 L866.70 628.24 L867.07 628.90 L867.45 629.57 L867.82 630.25 L868.19 630.94 L868.57 631.64 L868.94 632.35 L869.32 633.07 L869.69 633.79 L870.07 634.53 L870.44 635.27 L870.81 636.01 L871.19 636.77 L871.56 637.53 L871.94 638.30 L872.31 639.08 L872.69 639.86 L873.06 640.65 L873.43 641.44 L873.81 642.24 L874.18 643.05 L874.56 643.86 L874.93 644.68 L875.31 645.50 L875.68 646.33 L876.05 647.16 L876.43 648.00 L876.80 648.84 L877.18 649.69 L877.55 650.54 L877.93 651.40 L878.30 652.25 L878.67 653.12 L879.05 653.98 L879.42 654.85 L879.80 655.72 L880.17 656.59 L880.55 657.47 L880.92 658.35 L881.29 659.23 L881.67 660.11 L882.04 660.99 L882.42 661.88 L882.79 662.77 L883.17 663.65 L883.54 664.54 L883.91 665.43 L884.29 666.32 L884.66 667.21 L885.04 668.10 L885.41 669.00 L885.79 669.89 L886.16 670.78 L886.54 671.67 L886.91 672.56 L887.28 673.44 L887.66 674.33 L888.03 675.22 L888.41 676.10 L888.78 676.98 L889.16 677.86 L889.53 678.74 L889.90 679.62 L890.28 680.49 L890.65 681.36 L891.03 682.23 L891.40 683.09 L891.78 683.95 L892.15 684.81 L892.52 685.67 L892.90 686.52 L893.27 687.36 L893.65 688.20 L894.02 689.04 L894.40 689.87 L894.77 690.70 L895.14 691.52 L895.52 692.34 L895.89 693.15 L896.27 693.96 L896.64 694.76 L897.02 695.56 L897.39 696.34 L897.76 697.13 L898.14 697.90 L898.51 698.67 L898.89 699.43 L899.26 700.19 L899.64 700.94 L900.01 701.68 L900.38 702.42 L900.76 703.15 L901.13 703.88 L901.51 704.59 L901.88 705.30 L902.26 706.01 L902.63 706.71 L903.00 707.40 L903.38 708.08 L903.75 708.76 L904.13 709.43 L904.50 710.09 L904.88 710.75 L905.25 711.40 L905.62 712.04 L906.00 712.68 L906.37 713.30 L906.75 713.93 L907.12 714.54 L907.50 715.15 L907.87 715.75 L908.24 716.34 L908.62 716.93 L908.99 717.51 L909.37 718.08 L909.74 718.64 L910.12 719.20 L910.49 719.75 L910.86 720.29 L911.24 720.83 L911.61 721.36 L911.99 721.88 L912.36 722.39 L912.74 722.89 L913.11 723.39 L913.48 723.88 L913.86 724.37 L914.23 724.84 L914.61 725.31 L914.98 725.77 L915.36 726.22 L915.73 726.66 L916.10 727.10 L916.48 727.53 L916.85 727.95 L917.23 728.37 L917.60 728.77 L917.98 729.17 L918.35 729.56 L918.72 729.94 L919.10 730.31 L919.47 730.68 L919.85 731.04 L920.22 731.39 L920.60 731.73 L920.97 732.06 L921.34 732.39 L921.72 732.70 L922.09 733.01 L922.47 733.31 L922.84 733.60 L923.22 733.89 L923.59 734.16 L923.97 734.43 L924.34 734.69 L924.71 734.94 L925.09 735.18 L925.46 735.42 L925.84 735.64 L926.21 735.86 L926.59 736.07 L926.96 736.27 L927.33 736.46 L927.71 736.65 L928.08 736.82 L928.46 736.99 L928.83 737.15 L929.21 737.31 L929.58 737.46 L929.95 737.60 L930.33 737.73 L930.70 737.86 L931.08 737.98 L931.45 738.09 L931.83 738.20 L932.20 738.30 L932.57 738.39 L932.95 738.48 L933.32 738.56 L933.70 738.64 L934.07 738.71 L934.45 738.77 L934.82 738.83 L935.19 738.88 L935.57 738.93 L935.94 738.98 L936.32 739.01 L936.69 739.05 L937.07 739.07 L937.44 739.10 L937.81 739.12 L938.19 739.13 L938.56 739.14 L938.94 739.15 L939.31 739.15 L939.69 739.14 L940.06 739.14 L940.43 739.13 L940.81 739.11 L941.18 739.10 L941.56 739.07 L941.93 739.05 L942.31 739.02 L942.68 738.99 L943.05 738.96 L943.43 738.92 L943.80 738.88 L944.18 738.84 L944.55 738.80 L944.93 738.75 L945.30 738.70 L945.67 738.65 L946.05 738.60 L946.42 738.54 L946.80 738.48 L947.17 738.43 L947.55 738.37 L947.92 738.30 L948.29 738.24 L948.67 738.18 L949.04 738.11 L949.42 738.05 L949.79 737.98 L950.17 737.91 L950.54 737.84 L950.91 737.78 L951.29 737.71 L951.66 737.64 L952.04 737.57 L952.41 737.50 L952.79 737.43 L953.16 737.36 L953.53 737.29 L953.91 737.22 L954.28 737.16 L954.66 737.09 L955.03 737.02 L955.41 736.96 L955.78 736.89 L956.15 736.83 L956.53 736.77 L956.90 736.71 L957.28 736.65 L957.65 736.59 L958.03 736.54 L958.40 736.49 L958.77 736.43 L959.15 736.39 L959.52 736.34 L959.90 736.30 L960.27 736.25 L960.65 736.21 L961.02 736.17 L961.39 736.12 L961.77 736.07 L962.14 736.01 L962.52 735.95 L962.89 735.88 L963.27 735.81 L963.64 735.72 L964.02 735.63 L964.39 735.53 L964.76 735.42 L965.14 735.29 L965.51 735.21 L965.89 735.12 L966.26 735.03 L966.64 734.95 L967.01 734.86 L967.38 734.77 L967.76 734.68 L968.13 734.59 L968.51 734.51 L968.88 734.42 L969.26 734.33 L969.63 734.24 L970.00 734.15 L970.38 734.07 L970.75 733.98 L971.13 733.89 L971.50 733.81 L971.88 733.73 L972.25 733.64 L972.62 733.56 L973.00 733.48 L973.37 733.40 L973.75 733.32 L974.12 733.25 L974.50 733.18 L974.87 733.10 L975.24 733.03 L975.62 732.97 L975.99 732.90 L976.37 732.84 L976.74 732.78 L977.12 732.72 L977.49 732.66 L977.86 732.61 L978.24 732.56 L978.61 732.51 L978.99 732.47 L979.36 732.43 L979.74 732.39 L980.11 732.36 L983.85 732.22 L987.60 732.23 L991.34 732.25 L995.08 732.28 L998.83 732.31 L1002.57 732.35 L1006.31 732.39 L1010.05 732.42 L1013.80 732.46 L1017.54 732.49 L1021.28 732.52 L1025.03 732.54 L1028.77 732.58 L1032.51 732.61 L1036.26 732.64 L1040.00 732.67 L1043.74 732.70 L1047.48 732.73 L1051.23 732.76 L1054.97 732.79 L1058.71 732.82 L1062.46 732.85 L1066.20 732.88 L1069.94 732.90 L1073.68 732.92 L1077.43 732.94 L1081.17 732.96 L1084.91 732.97 L1088.66 732.98 L1092.40 732.99 L1096.14 733.00 L1099.89 733.00 L1103.63 733.01 L1107.37 733.01 L1111.12 733.02 L1114.86 733.02 L1118.60 733.03 L1122.34 733.03 L1126.09 733.04 L1129.83 733.04 L1133.57 733.05 L1137.32 733.05 L1141.06 733.06 L1144.80 733.06 L1148.55 733.06 L1152.29 733.07 L1156.03 733.07 L1159.77 733.08 L1163.52 733.08 L1167.26 733.08 L1171.00 733.09 L1174.75 733.09 L1178.49 733.09 L1182.23 733.10 L1185.97 733.10 L1189.72 733.10 L1193.46 733.11 L1197.20 733.11 L1200.95 733.11 L1204.69 733.12 L1208.43 733.12 L1212.18 733.12 L1215.92 733.12 L1219.66 733.13 L1223.40 733.13 L1227.15 733.13 L1230.89 733.13 L1234.63 733.14 L1238.38 733.14 L1242.12 733.14 L1245.86 733.14 L1249.61 733.14 L1253.35 733.15 L1257.09 733.15 L1260.84 733.15 L1264.58 733.15 L1268.32 733.15 L1272.06 733.16 L1275.81 733.16 L1279.55 733.16 L1283.29 733.16 L1287.04 733.16 L1290.78 733.17 L1294.52 733.17 L1298.27 733.17 L1302.01 733.17 L1305.75 733.17 L1309.49 733.17 L1313.24 733.17 L1316.98 733.18 L1320.72 733.18 L1324.47 733.18 L1328.21 733.18 L1331.95 733.18 L1335.70 733.18 L1339.44 733.19 L1343.18 733.19 L1346.92 733.19 L1350.67 733.19 L1354.41 733.19 L1358.15 733.19 L1361.90 733.19 L1365.64 733.20 L1369.38 733.20 L1373.12 733.20 L1376.87 733.20 L1380.61 733.20 L1384.35 733.20 L1388.10 733.21 L1391.84 733.21 L1395.58 733.21 L1399.33 733.21 L1403.07 733.21 L1406.81 733.21 L1410.56 733.22 L1414.30 733.22 L1418.04 733.22 L1421.78 733.22 L1425.53 733.22 L1429.27 733.23 L1433.01 733.23 L1436.76 733.23 L1440.50 733.23 L1444.24 733.23 L1447.99 733.24 L1451.73 733.24 L1455.47 733.24 L1459.21 733.24 L1462.96 733.25 L1466.70 733.25 L1470.44 733.25 L1474.19 733.25 L1477.93 733.26 L1481.67 733.26 L1485.41 733.26 L1489.16 733.26 L1492.90 733.27 L1496.64 733.27 L1500.39 733.27 L1504.13 733.27 L1507.87 733.28 L1511.62 733.28" stroke="#8000ff"/></g><rect x="753" y="527" width="3" height="518" fill="#000"/><rect x="1504" y="527" width="3" height="518" fill="#000"/><rect x="753" y="527" width="754" height="3" fill="#000"/><rect x="753" y="1042" width="754" height="3" fill="#000"/><text x="793.38" y="1072" font-size="22.5" letter-spacing="0.85" text-anchor="middle">20</text><text x="868.24" y="1072" font-size="22.5" letter-spacing="0.85" text-anchor="middle">40</text><text x="943.10" y="1072" font-size="22.5" letter-spacing="0.85" text-anchor="middle">60</text><text x="1017.96" y="1072" font-size="22.5" letter-spacing="0.85" text-anchor="middle">80</text><text x="1092.82" y="1072" font-size="22.5" letter-spacing="0.85" text-anchor="middle">100</text><text x="1167.68" y="1072" font-size="22.5" letter-spacing="0.85" text-anchor="middle">120</text><text x="1242.54" y="1072" font-size="22.5" letter-spacing="0.85" text-anchor="middle">140</text><text x="1317.40" y="1072" font-size="22.5" letter-spacing="0.85" text-anchor="middle">160</text><text x="1392.26" y="1072" font-size="22.5" letter-spacing="0.85" text-anchor="middle">180</text><text x="1467.12" y="1072" font-size="22.5" letter-spacing="0.85" text-anchor="middle">200</text><text x="743.8" y="586.38" font-size="22.5" letter-spacing="0.85" text-anchor="end">0.8</text><text x="743.8" y="689.14" font-size="22.5" letter-spacing="0.85" text-anchor="end">0.4</text><text x="743.8" y="791.90" font-size="22.5" letter-spacing="0.85" text-anchor="end">0.0</text><text x="743.8" y="894.66" font-size="22.5" letter-spacing="0.85" text-anchor="end">-0.4</text><text x="743.8" y="997.42" font-size="22.5" letter-spacing="0.85" text-anchor="end">-0.8</text>
</svg></body></html>
